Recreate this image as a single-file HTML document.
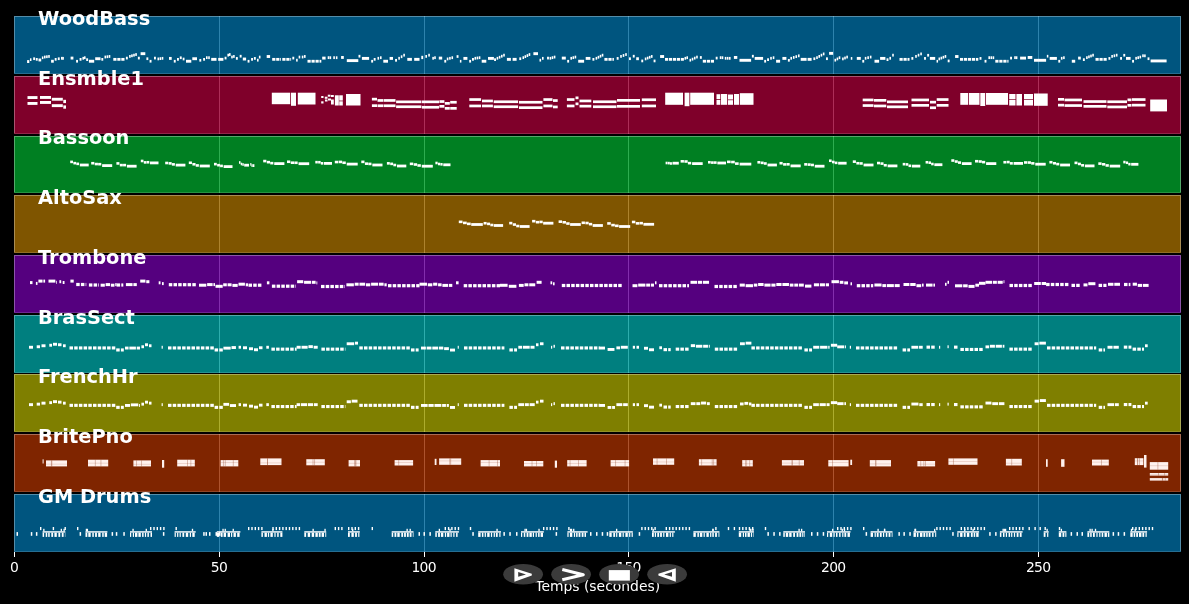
<!DOCTYPE html><html><head><meta charset="utf-8"><title>Piano roll</title><style>html,body{margin:0;padding:0;background:#000;width:1189px;height:604px;overflow:hidden}svg{display:block}text{font-family:"DejaVu Sans","Liberation Sans",sans-serif}</style></head><body>
<svg width="1189" height="604" viewBox="0 0 1189 604">
<rect width="1189" height="604" fill="#000"/>
<g>
<rect x="14" y="16" width="1167" height="58" fill="#00557f"/>
<line x1="219.5" y1="16" x2="219.5" y2="74" stroke="#2e83ad" stroke-width="1"/>
<line x1="424.5" y1="16" x2="424.5" y2="74" stroke="#2e83ad" stroke-width="1"/>
<line x1="628.5" y1="16" x2="628.5" y2="74" stroke="#2e83ad" stroke-width="1"/>
<line x1="833.5" y1="16" x2="833.5" y2="74" stroke="#2e83ad" stroke-width="1"/>
<line x1="1038.5" y1="16" x2="1038.5" y2="74" stroke="#2e83ad" stroke-width="1"/>
<rect x="27.1" y="60.11" width="2.2" height="2.9" fill="#fff"/>
<rect x="29.95" y="58.31" width="1.5" height="2.7" fill="#fff"/>
<rect x="33.2" y="57.37" width="1.9" height="2.7" fill="#fff"/>
<rect x="35.8" y="58" width="1.9" height="2.7" fill="#fff"/>
<rect x="38.5" y="58.53" width="2.7" height="2.9" fill="#fff"/>
<rect x="41.9" y="56.42" width="1.5" height="2.7" fill="#fff"/>
<rect x="44" y="55.62" width="1.6" height="2.8" fill="#fff"/>
<rect x="46.1" y="55.33" width="1.6" height="2.8" fill="#fff"/>
<rect x="48.2" y="55.04" width="1.6" height="2.8" fill="#fff"/>
<rect x="51.1" y="59.79" width="2.7" height="2.9" fill="#fff"/>
<rect x="54.7" y="58" width="1.9" height="2.7" fill="#fff"/>
<rect x="57.8" y="57.37" width="1.9" height="2.7" fill="#fff"/>
<rect x="61" y="56.88" width="1.6" height="2.8" fill="#fff"/>
<rect x="62.25" y="56.93" width="1.6" height="2.8" fill="#fff"/>
<rect x="70.6" y="56.64" width="2.8" height="2.9" fill="#fff"/>
<rect x="76.1" y="59.89" width="1.9" height="2.7" fill="#fff"/>
<rect x="79.6" y="58" width="1.9" height="2.7" fill="#fff"/>
<rect x="82.4" y="56.88" width="1.6" height="2.8" fill="#fff"/>
<rect x="84" y="56.3" width="1.6" height="2.8" fill="#fff"/>
<rect x="86.2" y="58.31" width="1.9" height="2.7" fill="#fff"/>
<rect x="88.9" y="59.79" width="5.3" height="2.9" fill="#fff"/>
<rect x="95.2" y="57.27" width="5.3" height="2.9" fill="#fff"/>
<rect x="101.35" y="58" width="1.9" height="2.7" fill="#fff"/>
<rect x="104.5" y="55.62" width="1.6" height="2.8" fill="#fff"/>
<rect x="106.6" y="55.33" width="1.6" height="2.8" fill="#fff"/>
<rect x="108.7" y="55.04" width="1.6" height="2.8" fill="#fff"/>
<rect x="113.3" y="57.95" width="3.2" height="2.8" fill="#fff"/>
<rect x="117.3" y="57.95" width="3.2" height="2.8" fill="#fff"/>
<rect x="121.3" y="57.95" width="3.2" height="2.8" fill="#fff"/>
<rect x="125.9" y="56.74" width="1.9" height="2.7" fill="#fff"/>
<rect x="129.1" y="54.99" width="1.6" height="2.8" fill="#fff"/>
<rect x="131.15" y="54.37" width="1.6" height="2.8" fill="#fff"/>
<rect x="133.2" y="53.76" width="1.6" height="2.8" fill="#fff"/>
<rect x="135.25" y="53.14" width="1.6" height="2.8" fill="#fff"/>
<rect x="137.9" y="56.74" width="1.9" height="2.7" fill="#fff"/>
<rect x="140.6" y="52.22" width="4.7" height="2.9" fill="#fff"/>
<rect x="146.4" y="57.37" width="1.9" height="2.7" fill="#fff"/>
<rect x="149.6" y="59.89" width="1.9" height="2.7" fill="#fff"/>
<rect x="154" y="56.74" width="1.9" height="2.7" fill="#fff"/>
<rect x="157.5" y="57.51" width="1.6" height="2.8" fill="#fff"/>
<rect x="159.6" y="57.22" width="1.6" height="2.8" fill="#fff"/>
<rect x="161.7" y="56.93" width="1.6" height="2.8" fill="#fff"/>
<rect x="169" y="56.95" width="2.7" height="2.9" fill="#fff"/>
<rect x="173.8" y="59.89" width="1.9" height="2.7" fill="#fff"/>
<rect x="177" y="58" width="1.9" height="2.7" fill="#fff"/>
<rect x="179.8" y="56.42" width="1.9" height="2.7" fill="#fff"/>
<rect x="182.7" y="57.68" width="1.8" height="2.7" fill="#fff"/>
<rect x="186" y="59.79" width="5.3" height="2.9" fill="#fff"/>
<rect x="192.3" y="57.27" width="4.7" height="2.9" fill="#fff"/>
<rect x="199.35" y="58.95" width="1.9" height="2.7" fill="#fff"/>
<rect x="203.15" y="58" width="1.9" height="2.7" fill="#fff"/>
<rect x="206" y="56.25" width="1.6" height="2.8" fill="#fff"/>
<rect x="208.2" y="56.3" width="1.6" height="2.8" fill="#fff"/>
<rect x="211.2" y="57.9" width="5.3" height="2.9" fill="#fff"/>
<rect x="218.2" y="57.9" width="5.2" height="2.9" fill="#fff"/>
<rect x="224.6" y="56.74" width="1.9" height="2.7" fill="#fff"/>
<rect x="227.4" y="53.73" width="1.6" height="2.8" fill="#fff"/>
<rect x="229" y="53.14" width="1.6" height="2.8" fill="#fff"/>
<rect x="231.2" y="55.62" width="1.6" height="2.8" fill="#fff"/>
<rect x="233.1" y="55.04" width="1.6" height="2.8" fill="#fff"/>
<rect x="235.9" y="57.05" width="1.9" height="2.7" fill="#fff"/>
<rect x="239.7" y="54.85" width="1.9" height="2.7" fill="#fff"/>
<rect x="242.8" y="57.58" width="3.3" height="2.9" fill="#fff"/>
<rect x="247.6" y="59.89" width="1.9" height="2.7" fill="#fff"/>
<rect x="251.1" y="58" width="1.9" height="2.7" fill="#fff"/>
<rect x="253.9" y="57.05" width="1.9" height="2.7" fill="#fff"/>
<rect x="257" y="58.77" width="1.6" height="2.8" fill="#fff"/>
<rect x="258.9" y="55.67" width="1.6" height="2.8" fill="#fff"/>
<rect x="266.7" y="55.06" width="3.4" height="2.9" fill="#fff"/>
<rect x="272.2" y="57.95" width="3.2" height="2.8" fill="#fff"/>
<rect x="276.2" y="57.95" width="3.2" height="2.8" fill="#fff"/>
<rect x="280.2" y="57.95" width="0.8" height="2.8" fill="#fff"/>
<rect x="282.3" y="57.95" width="3.2" height="2.8" fill="#fff"/>
<rect x="286.3" y="57.95" width="3.2" height="2.8" fill="#fff"/>
<rect x="290.3" y="57.95" width="0.8" height="2.8" fill="#fff"/>
<rect x="292.35" y="56.74" width="1.9" height="2.7" fill="#fff"/>
<rect x="296.1" y="58.77" width="1.6" height="2.8" fill="#fff"/>
<rect x="298.65" y="55.67" width="1.6" height="2.8" fill="#fff"/>
<rect x="301.8" y="55.62" width="1.6" height="2.8" fill="#fff"/>
<rect x="304" y="55.04" width="1.6" height="2.8" fill="#fff"/>
<rect x="307.5" y="59.84" width="3.2" height="2.8" fill="#fff"/>
<rect x="311.5" y="59.84" width="3.2" height="2.8" fill="#fff"/>
<rect x="315.5" y="59.84" width="3.2" height="2.8" fill="#fff"/>
<rect x="319.5" y="59.84" width="1.8" height="2.8" fill="#fff"/>
<rect x="322.2" y="56.64" width="3.4" height="2.9" fill="#fff"/>
<rect x="327.7" y="56.25" width="1.6" height="2.8" fill="#fff"/>
<rect x="329.55" y="56.3" width="1.6" height="2.8" fill="#fff"/>
<rect x="333.3" y="56.25" width="1.6" height="2.8" fill="#fff"/>
<rect x="335.85" y="56.3" width="1.6" height="2.8" fill="#fff"/>
<rect x="341.1" y="56.01" width="2.7" height="2.9" fill="#fff"/>
<rect x="346.8" y="59.16" width="11.5" height="2.9" fill="#fff"/>
<rect x="358.5" y="54.85" width="1.9" height="2.7" fill="#fff"/>
<rect x="361.9" y="56.95" width="7.2" height="2.9" fill="#fff"/>
<rect x="371.2" y="59.89" width="1.9" height="2.7" fill="#fff"/>
<rect x="373.7" y="58" width="1.9" height="2.7" fill="#fff"/>
<rect x="377.5" y="56.88" width="1.6" height="2.8" fill="#fff"/>
<rect x="380" y="56.3" width="1.6" height="2.8" fill="#fff"/>
<rect x="383.3" y="59.79" width="4.7" height="2.9" fill="#fff"/>
<rect x="389.6" y="56.95" width="3.4" height="2.9" fill="#fff"/>
<rect x="395.1" y="58.95" width="1.9" height="2.7" fill="#fff"/>
<rect x="398.3" y="56.88" width="1.6" height="2.8" fill="#fff"/>
<rect x="400.8" y="55.33" width="1.6" height="2.8" fill="#fff"/>
<rect x="403.3" y="53.77" width="1.6" height="2.8" fill="#fff"/>
<rect x="407.3" y="57.9" width="4.6" height="2.9" fill="#fff"/>
<rect x="414.2" y="57.9" width="5.3" height="2.9" fill="#fff"/>
<rect x="421.3" y="55.82" width="1.9" height="3.28" fill="#fff"/>
<rect x="425.4" y="54.99" width="1.6" height="2.8" fill="#fff"/>
<rect x="428.25" y="53.77" width="1.6" height="2.8" fill="#fff"/>
<rect x="432.3" y="56.88" width="1.6" height="2.8" fill="#fff"/>
<rect x="434.2" y="56.3" width="1.6" height="2.8" fill="#fff"/>
<rect x="438.8" y="56.64" width="3.4" height="2.9" fill="#fff"/>
<rect x="444.3" y="59.89" width="1.9" height="2.7" fill="#fff"/>
<rect x="446.8" y="57.51" width="1.6" height="2.8" fill="#fff"/>
<rect x="449.13" y="56.9" width="1.6" height="2.8" fill="#fff"/>
<rect x="451.47" y="56.3" width="1.6" height="2.8" fill="#fff"/>
<rect x="456.6" y="55.16" width="1.9" height="2.7" fill="#fff"/>
<rect x="459.9" y="59.89" width="1.5" height="2.7" fill="#fff"/>
<rect x="463.4" y="56.95" width="4" height="2.9" fill="#fff"/>
<rect x="469.2" y="59.89" width="1.9" height="2.7" fill="#fff"/>
<rect x="472" y="58" width="1.9" height="2.7" fill="#fff"/>
<rect x="474.5" y="56.88" width="1.6" height="2.8" fill="#fff"/>
<rect x="476.63" y="56.59" width="1.6" height="2.8" fill="#fff"/>
<rect x="478.77" y="56.3" width="1.6" height="2.8" fill="#fff"/>
<rect x="481.7" y="59.79" width="4.6" height="2.9" fill="#fff"/>
<rect x="488" y="56.95" width="5.9" height="2.9" fill="#fff"/>
<rect x="494.1" y="58.31" width="1.9" height="2.7" fill="#fff"/>
<rect x="496.6" y="56.88" width="1.6" height="2.8" fill="#fff"/>
<rect x="498.8" y="55.84" width="1.6" height="2.8" fill="#fff"/>
<rect x="501" y="54.81" width="1.6" height="2.8" fill="#fff"/>
<rect x="503.2" y="53.77" width="1.6" height="2.8" fill="#fff"/>
<rect x="506.9" y="57.9" width="4" height="2.9" fill="#fff"/>
<rect x="512.6" y="57.9" width="4" height="2.9" fill="#fff"/>
<rect x="519.3" y="57.37" width="1.9" height="2.7" fill="#fff"/>
<rect x="522.5" y="56.25" width="1.6" height="2.8" fill="#fff"/>
<rect x="524.55" y="55.21" width="1.6" height="2.8" fill="#fff"/>
<rect x="526.6" y="54.18" width="1.6" height="2.8" fill="#fff"/>
<rect x="528.65" y="53.14" width="1.6" height="2.8" fill="#fff"/>
<rect x="533.4" y="52.22" width="4.6" height="2.9" fill="#fff"/>
<rect x="539.5" y="58.77" width="1.6" height="2.8" fill="#fff"/>
<rect x="542" y="56.93" width="1.6" height="2.8" fill="#fff"/>
<rect x="547.05" y="56.74" width="1.9" height="2.7" fill="#fff"/>
<rect x="549.6" y="56.88" width="1.6" height="2.8" fill="#fff"/>
<rect x="551.7" y="56.27" width="1.6" height="2.8" fill="#fff"/>
<rect x="553.8" y="55.67" width="1.6" height="2.8" fill="#fff"/>
<rect x="561.8" y="56.64" width="4" height="2.9" fill="#fff"/>
<rect x="567.2" y="59.89" width="1.9" height="2.7" fill="#fff"/>
<rect x="570.4" y="56.88" width="1.6" height="2.8" fill="#fff"/>
<rect x="572.5" y="56.27" width="1.6" height="2.8" fill="#fff"/>
<rect x="574.6" y="55.67" width="1.6" height="2.8" fill="#fff"/>
<rect x="578.2" y="59.79" width="5.9" height="2.9" fill="#fff"/>
<rect x="585.7" y="56.95" width="4.7" height="2.9" fill="#fff"/>
<rect x="592.45" y="58" width="1.9" height="2.7" fill="#fff"/>
<rect x="595.6" y="56.88" width="1.6" height="2.8" fill="#fff"/>
<rect x="597.65" y="55.84" width="1.6" height="2.8" fill="#fff"/>
<rect x="599.7" y="54.81" width="1.6" height="2.8" fill="#fff"/>
<rect x="601.75" y="53.77" width="1.6" height="2.8" fill="#fff"/>
<rect x="604.4" y="57.95" width="3.2" height="2.8" fill="#fff"/>
<rect x="608.4" y="57.95" width="3.2" height="2.8" fill="#fff"/>
<rect x="612.4" y="57.95" width="1.5" height="2.8" fill="#fff"/>
<rect x="616.7" y="57.05" width="1.9" height="2.7" fill="#fff"/>
<rect x="620.2" y="54.99" width="1.6" height="2.8" fill="#fff"/>
<rect x="622.7" y="54.07" width="1.6" height="2.8" fill="#fff"/>
<rect x="625.2" y="53.14" width="1.6" height="2.8" fill="#fff"/>
<rect x="629" y="57.37" width="1.9" height="2.7" fill="#fff"/>
<rect x="632.8" y="54.85" width="1.9" height="2.7" fill="#fff"/>
<rect x="636.2" y="57.27" width="2.7" height="2.9" fill="#fff"/>
<rect x="641.3" y="59.58" width="1.9" height="2.7" fill="#fff"/>
<rect x="644.8" y="57.51" width="1.6" height="2.8" fill="#fff"/>
<rect x="646.85" y="56.69" width="1.6" height="2.8" fill="#fff"/>
<rect x="648.9" y="55.86" width="1.6" height="2.8" fill="#fff"/>
<rect x="650.95" y="55.04" width="1.6" height="2.8" fill="#fff"/>
<rect x="653.6" y="59.58" width="1.9" height="2.7" fill="#fff"/>
<rect x="660.1" y="55.06" width="4" height="2.9" fill="#fff"/>
<rect x="665" y="57.95" width="3.2" height="2.8" fill="#fff"/>
<rect x="669" y="57.95" width="3.2" height="2.8" fill="#fff"/>
<rect x="673" y="57.95" width="3.2" height="2.8" fill="#fff"/>
<rect x="677" y="57.95" width="3.2" height="2.8" fill="#fff"/>
<rect x="681" y="57.95" width="2.9" height="2.8" fill="#fff"/>
<rect x="684.5" y="56.88" width="1.6" height="2.8" fill="#fff"/>
<rect x="686.4" y="56.3" width="1.6" height="2.8" fill="#fff"/>
<rect x="689.5" y="58.77" width="1.6" height="2.8" fill="#fff"/>
<rect x="691.73" y="57.74" width="1.6" height="2.8" fill="#fff"/>
<rect x="693.95" y="56.7" width="1.6" height="2.8" fill="#fff"/>
<rect x="696.17" y="55.67" width="1.6" height="2.8" fill="#fff"/>
<rect x="699.9" y="56.11" width="1.9" height="2.7" fill="#fff"/>
<rect x="702.8" y="59.84" width="3.2" height="2.8" fill="#fff"/>
<rect x="706.8" y="59.84" width="3.2" height="2.8" fill="#fff"/>
<rect x="710.8" y="59.84" width="3.2" height="2.8" fill="#fff"/>
<rect x="715.7" y="56.74" width="1.9" height="2.7" fill="#fff"/>
<rect x="719.8" y="56.25" width="1.6" height="2.8" fill="#fff"/>
<rect x="721.7" y="56.3" width="1.6" height="2.8" fill="#fff"/>
<rect x="724.8" y="56.88" width="1.6" height="2.8" fill="#fff"/>
<rect x="726.9" y="56.9" width="1.6" height="2.8" fill="#fff"/>
<rect x="729" y="56.93" width="1.6" height="2.8" fill="#fff"/>
<rect x="733.9" y="56.01" width="3.4" height="2.9" fill="#fff"/>
<rect x="739.5" y="58.85" width="11.6" height="2.9" fill="#fff"/>
<rect x="751.9" y="54.85" width="1.9" height="2.7" fill="#fff"/>
<rect x="754.7" y="56.95" width="8.4" height="2.9" fill="#fff"/>
<rect x="764.2" y="59.89" width="1.9" height="2.7" fill="#fff"/>
<rect x="767.1" y="58.31" width="1.9" height="2.7" fill="#fff"/>
<rect x="770.2" y="56.88" width="1.6" height="2.8" fill="#fff"/>
<rect x="772.75" y="56.3" width="1.6" height="2.8" fill="#fff"/>
<rect x="776.1" y="59.79" width="4" height="2.9" fill="#fff"/>
<rect x="782.4" y="56.95" width="4" height="2.9" fill="#fff"/>
<rect x="787.9" y="58.95" width="1.9" height="2.7" fill="#fff"/>
<rect x="790.4" y="56.88" width="1.6" height="2.8" fill="#fff"/>
<rect x="792.92" y="56.05" width="1.6" height="2.8" fill="#fff"/>
<rect x="795.45" y="55.23" width="1.6" height="2.8" fill="#fff"/>
<rect x="797.98" y="54.41" width="1.6" height="2.8" fill="#fff"/>
<rect x="800.7" y="57.9" width="5.9" height="2.9" fill="#fff"/>
<rect x="807.6" y="57.9" width="4" height="2.9" fill="#fff"/>
<rect x="813.4" y="57.37" width="1.9" height="2.7" fill="#fff"/>
<rect x="816.2" y="56.25" width="1.6" height="2.8" fill="#fff"/>
<rect x="818.43" y="55" width="1.6" height="2.8" fill="#fff"/>
<rect x="820.65" y="53.76" width="1.6" height="2.8" fill="#fff"/>
<rect x="822.88" y="52.51" width="1.6" height="2.8" fill="#fff"/>
<rect x="826" y="57.37" width="1.9" height="2.7" fill="#fff"/>
<rect x="829.1" y="51.91" width="4" height="2.9" fill="#fff"/>
<rect x="834.5" y="58.77" width="1.6" height="2.8" fill="#fff"/>
<rect x="836.6" y="57.53" width="1.6" height="2.8" fill="#fff"/>
<rect x="838.7" y="56.3" width="1.6" height="2.8" fill="#fff"/>
<rect x="842.1" y="57.51" width="1.6" height="2.8" fill="#fff"/>
<rect x="844.2" y="56.59" width="1.6" height="2.8" fill="#fff"/>
<rect x="846.3" y="55.67" width="1.6" height="2.8" fill="#fff"/>
<rect x="850.8" y="57.05" width="1.5" height="2.7" fill="#fff"/>
<rect x="856.8" y="56.95" width="4" height="2.9" fill="#fff"/>
<rect x="862.3" y="59.89" width="1.9" height="2.7" fill="#fff"/>
<rect x="864.8" y="56.88" width="1.6" height="2.8" fill="#fff"/>
<rect x="867.33" y="56.27" width="1.6" height="2.8" fill="#fff"/>
<rect x="869.87" y="55.67" width="1.6" height="2.8" fill="#fff"/>
<rect x="874.5" y="59.79" width="4.6" height="2.9" fill="#fff"/>
<rect x="880.1" y="56.95" width="5.3" height="2.9" fill="#fff"/>
<rect x="886.55" y="58.31" width="1.9" height="2.7" fill="#fff"/>
<rect x="889.4" y="56.88" width="1.6" height="2.8" fill="#fff"/>
<rect x="892.2" y="53.77" width="1.6" height="2.8" fill="#fff"/>
<rect x="899.5" y="57.95" width="3.2" height="2.8" fill="#fff"/>
<rect x="903.5" y="57.95" width="3.2" height="2.8" fill="#fff"/>
<rect x="907.5" y="57.95" width="2" height="2.8" fill="#fff"/>
<rect x="911.4" y="57.05" width="1.9" height="2.7" fill="#fff"/>
<rect x="915.2" y="54.99" width="1.6" height="2.8" fill="#fff"/>
<rect x="917.73" y="53.75" width="1.6" height="2.8" fill="#fff"/>
<rect x="920.27" y="52.51" width="1.6" height="2.8" fill="#fff"/>
<rect x="924.05" y="57.05" width="1.9" height="2.7" fill="#fff"/>
<rect x="927.2" y="53.9" width="1.9" height="2.7" fill="#fff"/>
<rect x="929.9" y="56.95" width="5.3" height="2.9" fill="#fff"/>
<rect x="936.55" y="59.89" width="1.5" height="2.7" fill="#fff"/>
<rect x="938.5" y="57.51" width="1.6" height="2.8" fill="#fff"/>
<rect x="940.55" y="56.69" width="1.6" height="2.8" fill="#fff"/>
<rect x="942.6" y="55.86" width="1.6" height="2.8" fill="#fff"/>
<rect x="944.65" y="55.04" width="1.6" height="2.8" fill="#fff"/>
<rect x="947.7" y="59.58" width="1.9" height="2.7" fill="#fff"/>
<rect x="955.1" y="55.06" width="3.4" height="2.9" fill="#fff"/>
<rect x="960" y="57.95" width="3.2" height="2.8" fill="#fff"/>
<rect x="964" y="57.95" width="3.2" height="2.8" fill="#fff"/>
<rect x="968" y="57.95" width="3.2" height="2.8" fill="#fff"/>
<rect x="972" y="57.95" width="3.2" height="2.8" fill="#fff"/>
<rect x="976" y="57.95" width="2.3" height="2.8" fill="#fff"/>
<rect x="979.55" y="57.05" width="1.9" height="2.7" fill="#fff"/>
<rect x="984.55" y="59.89" width="1.9" height="2.7" fill="#fff"/>
<rect x="988.4" y="56.25" width="1.6" height="2.8" fill="#fff"/>
<rect x="990.5" y="56.27" width="1.6" height="2.8" fill="#fff"/>
<rect x="992.6" y="56.3" width="1.6" height="2.8" fill="#fff"/>
<rect x="995.3" y="59.84" width="3.2" height="2.8" fill="#fff"/>
<rect x="999.3" y="59.84" width="3.2" height="2.8" fill="#fff"/>
<rect x="1003.3" y="59.84" width="3.2" height="2.8" fill="#fff"/>
<rect x="1007.3" y="59.84" width="1.2" height="2.8" fill="#fff"/>
<rect x="1010.1" y="56.74" width="1.9" height="2.7" fill="#fff"/>
<rect x="1014.2" y="56.25" width="1.6" height="2.8" fill="#fff"/>
<rect x="1015.8" y="56.3" width="1.6" height="2.8" fill="#fff"/>
<rect x="1020.1" y="56.64" width="5.9" height="2.9" fill="#fff"/>
<rect x="1027.7" y="56.01" width="4.6" height="2.9" fill="#fff"/>
<rect x="1034" y="58.85" width="12.1" height="2.9" fill="#fff"/>
<rect x="1046.85" y="54.85" width="1.5" height="2.7" fill="#fff"/>
<rect x="1049.7" y="56.95" width="7.2" height="2.9" fill="#fff"/>
<rect x="1058.3" y="59.89" width="1.9" height="2.7" fill="#fff"/>
<rect x="1060.9" y="56.88" width="1.6" height="2.8" fill="#fff"/>
<rect x="1063.1" y="56.3" width="1.6" height="2.8" fill="#fff"/>
<rect x="1071.8" y="59.79" width="3.4" height="2.9" fill="#fff"/>
<rect x="1078.1" y="56.64" width="2.7" height="2.9" fill="#fff"/>
<rect x="1082.9" y="58.31" width="1.9" height="2.7" fill="#fff"/>
<rect x="1086.1" y="56.25" width="1.6" height="2.8" fill="#fff"/>
<rect x="1088.15" y="55.42" width="1.6" height="2.8" fill="#fff"/>
<rect x="1090.2" y="54.6" width="1.6" height="2.8" fill="#fff"/>
<rect x="1092.25" y="53.77" width="1.6" height="2.8" fill="#fff"/>
<rect x="1095.5" y="57.95" width="3.2" height="2.8" fill="#fff"/>
<rect x="1099.5" y="57.95" width="3.2" height="2.8" fill="#fff"/>
<rect x="1103.5" y="57.95" width="3.2" height="2.8" fill="#fff"/>
<rect x="1108.45" y="57.05" width="1.9" height="2.7" fill="#fff"/>
<rect x="1111.3" y="54.99" width="1.6" height="2.8" fill="#fff"/>
<rect x="1113.6" y="54.38" width="1.6" height="2.8" fill="#fff"/>
<rect x="1115.9" y="53.77" width="1.6" height="2.8" fill="#fff"/>
<rect x="1120.1" y="57.05" width="1.9" height="2.7" fill="#fff"/>
<rect x="1123.3" y="53.9" width="1.9" height="2.7" fill="#fff"/>
<rect x="1126" y="56.95" width="4.6" height="2.9" fill="#fff"/>
<rect x="1132.1" y="59.89" width="1.9" height="2.7" fill="#fff"/>
<rect x="1135.3" y="56.88" width="1.6" height="2.8" fill="#fff"/>
<rect x="1137.4" y="56.27" width="1.6" height="2.8" fill="#fff"/>
<rect x="1139.5" y="55.67" width="1.6" height="2.8" fill="#fff"/>
<rect x="1142.2" y="54.36" width="1.6" height="2.8" fill="#fff"/>
<rect x="1144.1" y="54.41" width="1.6" height="2.8" fill="#fff"/>
<rect x="1147.55" y="57.37" width="1.9" height="2.7" fill="#fff"/>
<rect x="1150.6" y="59.48" width="16" height="2.9" fill="#fff"/>
<path d="M14 16.5H1181M14.5 17V73M1180.5 17V73" stroke="#fff" stroke-opacity="0.33" stroke-width="1" fill="none"/>
<path d="M14 73.5H1181" stroke="#fff" stroke-opacity="0.15" stroke-width="1" fill="none"/>
<text x="38" y="25" fill="#fff" font-weight="bold" font-size="19.4">WoodBass</text>
</g>
<g>
<rect x="14" y="76" width="1167" height="58" fill="#7f002a"/>
<line x1="219.5" y1="76" x2="219.5" y2="134" stroke="#ad2e58" stroke-width="1"/>
<line x1="424.5" y1="76" x2="424.5" y2="134" stroke="#ad2e58" stroke-width="1"/>
<line x1="628.5" y1="76" x2="628.5" y2="134" stroke="#ad2e58" stroke-width="1"/>
<line x1="833.5" y1="76" x2="833.5" y2="134" stroke="#ad2e58" stroke-width="1"/>
<line x1="1038.5" y1="76" x2="1038.5" y2="134" stroke="#ad2e58" stroke-width="1"/>
<rect x="27.5" y="96.1" width="10" height="2.9" fill="#fff"/>
<rect x="27.5" y="102" width="10" height="2.9" fill="#fff"/>
<rect x="40" y="96" width="11" height="2.9" fill="#fff"/>
<rect x="40" y="101" width="11" height="2.9" fill="#fff"/>
<rect x="51.8" y="97.8" width="11" height="2.9" fill="#fff"/>
<rect x="51.8" y="104.2" width="11" height="2.9" fill="#fff"/>
<rect x="63.3" y="99.8" width="2.7" height="3.3" fill="#fff"/>
<rect x="63.3" y="105.4" width="2.7" height="3.3" fill="#fff"/>
<rect x="271.8" y="92.7" width="18.4" height="11.5" fill="#fff"/>
<rect x="291" y="92.7" width="5" height="13.1" fill="#fff"/>
<rect x="297.8" y="92.7" width="17.7" height="11.8" fill="#fff"/>
<rect x="321.2" y="96" width="2.3" height="2" fill="#fff"/>
<rect x="321.2" y="101.3" width="2.3" height="2.2" fill="#fff"/>
<rect x="324.8" y="96.7" width="2.7" height="2.1" fill="#fff"/>
<rect x="325" y="99.5" width="2.5" height="2" fill="#fff"/>
<rect x="327.8" y="94.7" width="2.7" height="2" fill="#fff"/>
<rect x="328" y="98.5" width="3" height="2" fill="#fff"/>
<rect x="331" y="95" width="2.8" height="2" fill="#fff"/>
<rect x="331" y="99.5" width="2.8" height="5" fill="#fff"/>
<rect x="334.9" y="95.3" width="3.9" height="10.2" fill="#fff"/>
<rect x="339.2" y="95.3" width="3.6" height="5.3" fill="#fff"/>
<rect x="339.2" y="101.3" width="3.6" height="4.2" fill="#fff"/>
<rect x="346" y="94" width="14.5" height="11.5" fill="#fff"/>
<rect x="371.9" y="97.8" width="5.1" height="2.7" fill="#fff"/>
<rect x="371.9" y="104.3" width="5.1" height="2.7" fill="#fff"/>
<rect x="377.5" y="99.1" width="5.7" height="2.7" fill="#fff"/>
<rect x="377.5" y="104.4" width="5.7" height="2.7" fill="#fff"/>
<rect x="383.6" y="99.1" width="11.9" height="2.7" fill="#fff"/>
<rect x="383.6" y="104.4" width="11.9" height="2.7" fill="#fff"/>
<rect x="396.1" y="100.5" width="25.3" height="2.7" fill="#fff"/>
<rect x="396.1" y="105.4" width="25.3" height="2.7" fill="#fff"/>
<rect x="421.9" y="100.5" width="17.1" height="2.7" fill="#fff"/>
<rect x="421.9" y="105.9" width="17.1" height="2.7" fill="#fff"/>
<rect x="439.4" y="100.2" width="5" height="2.7" fill="#fff"/>
<rect x="439.4" y="105" width="5" height="2.7" fill="#fff"/>
<rect x="444.8" y="102" width="5" height="2.7" fill="#fff"/>
<rect x="444.8" y="107" width="5" height="2.7" fill="#fff"/>
<rect x="450.2" y="100.9" width="6.5" height="2.7" fill="#fff"/>
<rect x="450.2" y="107" width="6.5" height="2.7" fill="#fff"/>
<rect x="469.3" y="98.2" width="11.8" height="2.7" fill="#fff"/>
<rect x="469.3" y="104.6" width="11.8" height="2.7" fill="#fff"/>
<rect x="482" y="99.6" width="10.9" height="2.7" fill="#fff"/>
<rect x="482" y="104.6" width="10.9" height="2.7" fill="#fff"/>
<rect x="493.7" y="100.4" width="24.4" height="2.7" fill="#fff"/>
<rect x="493.7" y="105.4" width="24.4" height="2.7" fill="#fff"/>
<rect x="519" y="100.9" width="23.5" height="2.7" fill="#fff"/>
<rect x="519" y="106.3" width="23.5" height="2.7" fill="#fff"/>
<rect x="543.4" y="98.2" width="9.1" height="2.7" fill="#fff"/>
<rect x="543.4" y="104.6" width="9.1" height="2.7" fill="#fff"/>
<rect x="553" y="99.2" width="4.7" height="2.7" fill="#fff"/>
<rect x="553" y="105.6" width="4.7" height="2.7" fill="#fff"/>
<rect x="566.9" y="98.2" width="7.6" height="2.7" fill="#fff"/>
<rect x="566.9" y="104.6" width="7.6" height="2.7" fill="#fff"/>
<rect x="575.5" y="96.5" width="3" height="2.7" fill="#fff"/>
<rect x="575.5" y="102.5" width="3" height="2.7" fill="#fff"/>
<rect x="579.5" y="99.6" width="11.8" height="2.7" fill="#fff"/>
<rect x="579.5" y="104.8" width="11.8" height="2.7" fill="#fff"/>
<rect x="593" y="100.4" width="23.5" height="2.7" fill="#fff"/>
<rect x="593" y="105.4" width="23.5" height="2.7" fill="#fff"/>
<rect x="617" y="99" width="23" height="2.7" fill="#fff"/>
<rect x="617" y="105" width="23" height="2.7" fill="#fff"/>
<rect x="641.8" y="98.4" width="14.2" height="2.7" fill="#fff"/>
<rect x="641.8" y="104.6" width="14.2" height="2.7" fill="#fff"/>
<rect x="665.2" y="92.7" width="17.8" height="12.1" fill="#fff"/>
<rect x="684.6" y="92.7" width="4.8" height="13.5" fill="#fff"/>
<rect x="690.2" y="92.7" width="23.8" height="12.1" fill="#fff"/>
<rect x="716.5" y="94.2" width="3.8" height="5" fill="#fff"/>
<rect x="716.5" y="100" width="3.8" height="4.8" fill="#fff"/>
<rect x="721" y="94" width="6.2" height="10.8" fill="#fff"/>
<rect x="728" y="94.5" width="5" height="5" fill="#fff"/>
<rect x="728" y="100.2" width="5" height="4.6" fill="#fff"/>
<rect x="734" y="94" width="5" height="10.8" fill="#fff"/>
<rect x="739.8" y="93.2" width="13.7" height="11.6" fill="#fff"/>
<rect x="862.7" y="98.6" width="10.8" height="2.7" fill="#fff"/>
<rect x="862.7" y="104.2" width="10.8" height="2.7" fill="#fff"/>
<rect x="874" y="99" width="12.3" height="2.7" fill="#fff"/>
<rect x="874" y="104.6" width="12.3" height="2.7" fill="#fff"/>
<rect x="887" y="100.5" width="21" height="2.7" fill="#fff"/>
<rect x="887" y="105.5" width="21" height="2.7" fill="#fff"/>
<rect x="911.5" y="98.6" width="17.5" height="2.7" fill="#fff"/>
<rect x="911.5" y="104" width="17.5" height="2.7" fill="#fff"/>
<rect x="930" y="100.8" width="6" height="2.7" fill="#fff"/>
<rect x="930" y="106.4" width="6" height="2.7" fill="#fff"/>
<rect x="936.7" y="98.2" width="11.8" height="2.7" fill="#fff"/>
<rect x="936.7" y="104" width="11.8" height="2.7" fill="#fff"/>
<rect x="960.3" y="93" width="7.7" height="11.8" fill="#fff"/>
<rect x="968.8" y="93" width="10.7" height="11.8" fill="#fff"/>
<rect x="980.3" y="93" width="4.9" height="13" fill="#fff"/>
<rect x="986" y="93" width="22" height="11.8" fill="#fff"/>
<rect x="1009.2" y="94" width="6.3" height="5.3" fill="#fff"/>
<rect x="1009.2" y="100" width="6.3" height="5.5" fill="#fff"/>
<rect x="1016.4" y="94" width="5.6" height="11.5" fill="#fff"/>
<rect x="1024" y="94" width="9" height="5.3" fill="#fff"/>
<rect x="1024" y="100" width="9" height="5.5" fill="#fff"/>
<rect x="1034" y="93.5" width="13.7" height="12.3" fill="#fff"/>
<rect x="1058" y="98" width="6" height="2.7" fill="#fff"/>
<rect x="1058" y="103.8" width="6" height="2.7" fill="#fff"/>
<rect x="1064.5" y="98.6" width="17.5" height="2.7" fill="#fff"/>
<rect x="1064.5" y="104.2" width="17.5" height="2.7" fill="#fff"/>
<rect x="1083.5" y="100.2" width="23" height="2.7" fill="#fff"/>
<rect x="1083.5" y="105" width="23" height="2.7" fill="#fff"/>
<rect x="1107.3" y="100.4" width="19.7" height="2.7" fill="#fff"/>
<rect x="1107.3" y="105.6" width="19.7" height="2.7" fill="#fff"/>
<rect x="1127.5" y="98.5" width="4" height="2.7" fill="#fff"/>
<rect x="1127.5" y="104" width="4" height="2.7" fill="#fff"/>
<rect x="1132" y="98.2" width="13.5" height="2.7" fill="#fff"/>
<rect x="1132" y="103.8" width="13.5" height="2.7" fill="#fff"/>
<rect x="1150.2" y="99.5" width="16.8" height="11.9" fill="#fff"/>
<path d="M14 76.5H1181M14.5 77V133M1180.5 77V133" stroke="#fff" stroke-opacity="0.33" stroke-width="1" fill="none"/>
<path d="M14 133.5H1181" stroke="#fff" stroke-opacity="0.15" stroke-width="1" fill="none"/>
<text x="38" y="85" fill="#fff" font-weight="bold" font-size="19.4">Ensmble1</text>
</g>
<g>
<rect x="14" y="136" width="1167" height="57" fill="#007f22"/>
<line x1="219.5" y1="136" x2="219.5" y2="193" stroke="#2ead50" stroke-width="1"/>
<line x1="424.5" y1="136" x2="424.5" y2="193" stroke="#2ead50" stroke-width="1"/>
<line x1="628.5" y1="136" x2="628.5" y2="193" stroke="#2ead50" stroke-width="1"/>
<line x1="833.5" y1="136" x2="833.5" y2="193" stroke="#2ead50" stroke-width="1"/>
<line x1="1038.5" y1="136" x2="1038.5" y2="193" stroke="#2ead50" stroke-width="1"/>
<rect x="70.2" y="160.59" width="2.78" height="2.6" fill="#fff"/>
<rect x="73.34" y="161.85" width="2.78" height="2.6" fill="#fff"/>
<rect x="76.31" y="162.54" width="2.78" height="2.6" fill="#fff"/>
<rect x="79.82" y="163.6" width="8.88" height="2.8" fill="#fff"/>
<rect x="91.2" y="161.92" width="3.15" height="2.6" fill="#fff"/>
<rect x="94.77" y="162.75" width="3.15" height="2.6" fill="#fff"/>
<rect x="98.13" y="162.88" width="3.15" height="2.6" fill="#fff"/>
<rect x="102.12" y="164.2" width="10.08" height="2.8" fill="#fff"/>
<rect x="116.4" y="162.12" width="3.03" height="2.6" fill="#fff"/>
<rect x="119.83" y="163.8" width="3.03" height="2.6" fill="#fff"/>
<rect x="123.07" y="163.81" width="3.03" height="2.6" fill="#fff"/>
<rect x="126.9" y="164.8" width="9.7" height="2.8" fill="#fff"/>
<rect x="140.8" y="159.68" width="2.66" height="2.6" fill="#fff"/>
<rect x="143.81" y="161.09" width="2.66" height="2.6" fill="#fff"/>
<rect x="146.64" y="160.96" width="2.66" height="2.6" fill="#fff"/>
<rect x="150" y="161.5" width="8.5" height="2.8" fill="#fff"/>
<rect x="165.2" y="161.7" width="3.03" height="2.6" fill="#fff"/>
<rect x="168.63" y="162.07" width="3.03" height="2.6" fill="#fff"/>
<rect x="171.87" y="163.07" width="3.03" height="2.6" fill="#fff"/>
<rect x="175.7" y="163.7" width="9.7" height="2.8" fill="#fff"/>
<rect x="188.8" y="161.48" width="3.15" height="2.6" fill="#fff"/>
<rect x="192.37" y="162.96" width="3.15" height="2.6" fill="#fff"/>
<rect x="195.73" y="164.14" width="3.15" height="2.6" fill="#fff"/>
<rect x="199.72" y="164.6" width="10.08" height="2.8" fill="#fff"/>
<rect x="214" y="162.83" width="2.78" height="2.6" fill="#fff"/>
<rect x="217.15" y="163.89" width="2.78" height="2.6" fill="#fff"/>
<rect x="220.1" y="164.61" width="2.78" height="2.6" fill="#fff"/>
<rect x="223.62" y="165.2" width="8.88" height="2.8" fill="#fff"/>
<rect x="239" y="161.18" width="1.5" height="2.6" fill="#fff"/>
<rect x="240.7" y="162.71" width="1.5" height="2.6" fill="#fff"/>
<rect x="242.3" y="163.21" width="1.5" height="2.6" fill="#fff"/>
<rect x="244.2" y="163.8" width="4.8" height="2.8" fill="#fff"/>
<rect x="250" y="163.06" width="0.66" height="2.6" fill="#fff"/>
<rect x="250.75" y="163.04" width="0.66" height="2.6" fill="#fff"/>
<rect x="251.45" y="164.34" width="0.66" height="2.6" fill="#fff"/>
<rect x="252.29" y="164.2" width="2.11" height="2.8" fill="#fff"/>
<rect x="263.2" y="159.77" width="3.18" height="2.6" fill="#fff"/>
<rect x="266.8" y="160.86" width="3.18" height="2.6" fill="#fff"/>
<rect x="270.2" y="161.85" width="3.18" height="2.6" fill="#fff"/>
<rect x="274.22" y="162.2" width="10.18" height="2.8" fill="#fff"/>
<rect x="287" y="160.46" width="3.33" height="2.6" fill="#fff"/>
<rect x="290.77" y="161.41" width="3.33" height="2.6" fill="#fff"/>
<rect x="294.33" y="161.47" width="3.33" height="2.6" fill="#fff"/>
<rect x="298.54" y="162.3" width="10.66" height="2.8" fill="#fff"/>
<rect x="315.3" y="160.86" width="2.5" height="2.6" fill="#fff"/>
<rect x="318.14" y="160.93" width="2.5" height="2.6" fill="#fff"/>
<rect x="320.81" y="162.02" width="2.5" height="2.6" fill="#fff"/>
<rect x="323.98" y="162" width="8.02" height="2.8" fill="#fff"/>
<rect x="334.8" y="160.75" width="3.44" height="2.6" fill="#fff"/>
<rect x="338.69" y="160.62" width="3.44" height="2.6" fill="#fff"/>
<rect x="342.36" y="161.46" width="3.44" height="2.6" fill="#fff"/>
<rect x="346.71" y="162.7" width="10.99" height="2.8" fill="#fff"/>
<rect x="361.3" y="160.56" width="3.18" height="2.6" fill="#fff"/>
<rect x="364.9" y="162.36" width="3.18" height="2.6" fill="#fff"/>
<rect x="368.3" y="162.62" width="3.18" height="2.6" fill="#fff"/>
<rect x="372.32" y="163.6" width="10.18" height="2.8" fill="#fff"/>
<rect x="386.9" y="162.05" width="2.91" height="2.6" fill="#fff"/>
<rect x="390.2" y="162.56" width="2.91" height="2.6" fill="#fff"/>
<rect x="393.3" y="163.71" width="2.91" height="2.6" fill="#fff"/>
<rect x="396.99" y="164.6" width="9.31" height="2.8" fill="#fff"/>
<rect x="409.8" y="162.56" width="3.45" height="2.6" fill="#fff"/>
<rect x="413.71" y="163.22" width="3.45" height="2.6" fill="#fff"/>
<rect x="417.39" y="164.2" width="3.45" height="2.6" fill="#fff"/>
<rect x="421.76" y="164.8" width="11.04" height="2.8" fill="#fff"/>
<rect x="435.4" y="161.7" width="2.26" height="2.6" fill="#fff"/>
<rect x="437.97" y="162.69" width="2.26" height="2.6" fill="#fff"/>
<rect x="440.38" y="163.02" width="2.26" height="2.6" fill="#fff"/>
<rect x="443.25" y="163.4" width="7.25" height="2.8" fill="#fff"/>
<rect x="665.6" y="161.71" width="1.98" height="2.6" fill="#fff"/>
<rect x="667.84" y="161.83" width="1.98" height="2.6" fill="#fff"/>
<rect x="669.96" y="162.19" width="1.98" height="2.6" fill="#fff"/>
<rect x="672.46" y="161.8" width="6.34" height="2.8" fill="#fff"/>
<rect x="680.6" y="160.01" width="3.32" height="2.6" fill="#fff"/>
<rect x="684.36" y="160.2" width="3.32" height="2.6" fill="#fff"/>
<rect x="687.89" y="161.83" width="3.32" height="2.6" fill="#fff"/>
<rect x="692.09" y="162.2" width="10.61" height="2.8" fill="#fff"/>
<rect x="708" y="160.96" width="2.7" height="2.6" fill="#fff"/>
<rect x="711.06" y="161.29" width="2.7" height="2.6" fill="#fff"/>
<rect x="713.94" y="161.28" width="2.7" height="2.6" fill="#fff"/>
<rect x="717.36" y="161.6" width="8.64" height="2.8" fill="#fff"/>
<rect x="727" y="160.56" width="3.64" height="2.6" fill="#fff"/>
<rect x="731.13" y="160.75" width="3.64" height="2.6" fill="#fff"/>
<rect x="735.02" y="162.3" width="3.64" height="2.6" fill="#fff"/>
<rect x="739.64" y="162.7" width="11.66" height="2.8" fill="#fff"/>
<rect x="757.4" y="160.99" width="2.92" height="2.6" fill="#fff"/>
<rect x="760.72" y="161.54" width="2.92" height="2.6" fill="#fff"/>
<rect x="763.83" y="162.18" width="2.92" height="2.6" fill="#fff"/>
<rect x="767.54" y="163.6" width="9.36" height="2.8" fill="#fff"/>
<rect x="779.5" y="161.92" width="3.18" height="2.6" fill="#fff"/>
<rect x="783.1" y="163.09" width="3.18" height="2.6" fill="#fff"/>
<rect x="786.5" y="163.01" width="3.18" height="2.6" fill="#fff"/>
<rect x="790.52" y="164.5" width="10.18" height="2.8" fill="#fff"/>
<rect x="804.2" y="163.06" width="3.04" height="2.6" fill="#fff"/>
<rect x="807.65" y="163.29" width="3.04" height="2.6" fill="#fff"/>
<rect x="810.9" y="163.68" width="3.04" height="2.6" fill="#fff"/>
<rect x="814.76" y="164.8" width="9.74" height="2.8" fill="#fff"/>
<rect x="829" y="159.45" width="2.64" height="2.6" fill="#fff"/>
<rect x="831.99" y="160.72" width="2.64" height="2.6" fill="#fff"/>
<rect x="834.81" y="161.55" width="2.64" height="2.6" fill="#fff"/>
<rect x="838.15" y="161.8" width="8.45" height="2.8" fill="#fff"/>
<rect x="852.8" y="160.35" width="3.11" height="2.6" fill="#fff"/>
<rect x="856.32" y="161.94" width="3.11" height="2.6" fill="#fff"/>
<rect x="859.63" y="162.15" width="3.11" height="2.6" fill="#fff"/>
<rect x="863.56" y="163.6" width="9.94" height="2.8" fill="#fff"/>
<rect x="877" y="161.76" width="3.06" height="2.6" fill="#fff"/>
<rect x="880.47" y="162.3" width="3.06" height="2.6" fill="#fff"/>
<rect x="883.73" y="163.96" width="3.06" height="2.6" fill="#fff"/>
<rect x="887.61" y="164.5" width="9.79" height="2.8" fill="#fff"/>
<rect x="902.7" y="162.88" width="2.64" height="2.6" fill="#fff"/>
<rect x="905.69" y="163.11" width="2.64" height="2.6" fill="#fff"/>
<rect x="908.51" y="164.5" width="2.64" height="2.6" fill="#fff"/>
<rect x="911.85" y="164.7" width="8.45" height="2.8" fill="#fff"/>
<rect x="925.6" y="160.97" width="2.52" height="2.6" fill="#fff"/>
<rect x="928.46" y="161.39" width="2.52" height="2.6" fill="#fff"/>
<rect x="931.14" y="162.72" width="2.52" height="2.6" fill="#fff"/>
<rect x="934.34" y="163.3" width="8.06" height="2.8" fill="#fff"/>
<rect x="951.3" y="159.24" width="3.04" height="2.6" fill="#fff"/>
<rect x="954.75" y="160.24" width="3.04" height="2.6" fill="#fff"/>
<rect x="958" y="161.29" width="3.04" height="2.6" fill="#fff"/>
<rect x="961.86" y="162.2" width="9.74" height="2.8" fill="#fff"/>
<rect x="975" y="159.93" width="3.19" height="2.6" fill="#fff"/>
<rect x="978.62" y="160.19" width="3.2" height="2.6" fill="#fff"/>
<rect x="982.03" y="160.85" width="3.19" height="2.6" fill="#fff"/>
<rect x="986.08" y="162.2" width="10.22" height="2.8" fill="#fff"/>
<rect x="1003.4" y="160.94" width="2.94" height="2.6" fill="#fff"/>
<rect x="1006.73" y="160.78" width="2.94" height="2.6" fill="#fff"/>
<rect x="1009.87" y="162.05" width="2.94" height="2.6" fill="#fff"/>
<rect x="1013.59" y="162" width="9.41" height="2.8" fill="#fff"/>
<rect x="1024" y="161.18" width="3.26" height="2.6" fill="#fff"/>
<rect x="1027.69" y="161.25" width="3.26" height="2.6" fill="#fff"/>
<rect x="1031.16" y="162.05" width="3.26" height="2.6" fill="#fff"/>
<rect x="1035.28" y="162.8" width="10.42" height="2.8" fill="#fff"/>
<rect x="1049.4" y="160.92" width="3.09" height="2.6" fill="#fff"/>
<rect x="1052.9" y="161.97" width="3.09" height="2.6" fill="#fff"/>
<rect x="1056.2" y="162.81" width="3.09" height="2.6" fill="#fff"/>
<rect x="1060.11" y="163.6" width="9.89" height="2.8" fill="#fff"/>
<rect x="1074.5" y="161.57" width="3" height="2.6" fill="#fff"/>
<rect x="1077.9" y="162.64" width="3" height="2.6" fill="#fff"/>
<rect x="1081.1" y="164.03" width="3" height="2.6" fill="#fff"/>
<rect x="1084.9" y="164.5" width="9.6" height="2.8" fill="#fff"/>
<rect x="1098.3" y="162.31" width="3.29" height="2.6" fill="#fff"/>
<rect x="1102.02" y="163.02" width="3.29" height="2.6" fill="#fff"/>
<rect x="1105.53" y="164.16" width="3.29" height="2.6" fill="#fff"/>
<rect x="1109.69" y="164.7" width="10.51" height="2.8" fill="#fff"/>
<rect x="1123.3" y="160.79" width="2.27" height="2.6" fill="#fff"/>
<rect x="1125.87" y="161.46" width="2.27" height="2.6" fill="#fff"/>
<rect x="1128.28" y="162.87" width="2.27" height="2.6" fill="#fff"/>
<rect x="1131.15" y="162.9" width="7.25" height="2.8" fill="#fff"/>
<path d="M14 136.5H1181M14.5 137V192M1180.5 137V192" stroke="#fff" stroke-opacity="0.33" stroke-width="1" fill="none"/>
<path d="M14 192.5H1181" stroke="#fff" stroke-opacity="0.15" stroke-width="1" fill="none"/>
<text x="38" y="144" fill="#fff" font-weight="bold" font-size="19.4">Bassoon</text>
</g>
<g>
<rect x="14" y="195" width="1167" height="58" fill="#7f5500"/>
<line x1="219.5" y1="195" x2="219.5" y2="253" stroke="#ad832e" stroke-width="1"/>
<line x1="424.5" y1="195" x2="424.5" y2="253" stroke="#ad832e" stroke-width="1"/>
<line x1="628.5" y1="195" x2="628.5" y2="253" stroke="#ad832e" stroke-width="1"/>
<line x1="833.5" y1="195" x2="833.5" y2="253" stroke="#ad832e" stroke-width="1"/>
<line x1="1038.5" y1="195" x2="1038.5" y2="253" stroke="#ad832e" stroke-width="1"/>
<rect x="458.8" y="220.55" width="3.72" height="2.6" fill="#fff"/>
<rect x="463.02" y="221.59" width="3.72" height="2.6" fill="#fff"/>
<rect x="466.98" y="222.55" width="3.72" height="2.6" fill="#fff"/>
<rect x="471.2" y="223.1" width="11.6" height="2.8" fill="#fff"/>
<rect x="483.6" y="221.93" width="3.05" height="2.6" fill="#fff"/>
<rect x="487.05" y="222.59" width="3.05" height="2.6" fill="#fff"/>
<rect x="490.3" y="223.71" width="3.05" height="2.6" fill="#fff"/>
<rect x="493.75" y="224.1" width="9.35" height="2.8" fill="#fff"/>
<rect x="509.2" y="221.83" width="3.18" height="2.6" fill="#fff"/>
<rect x="512.8" y="223.26" width="3.18" height="2.6" fill="#fff"/>
<rect x="516.2" y="224.73" width="3.18" height="2.6" fill="#fff"/>
<rect x="519.8" y="225.1" width="9.8" height="2.8" fill="#fff"/>
<rect x="532.1" y="219.88" width="3.32" height="2.6" fill="#fff"/>
<rect x="535.86" y="220.88" width="3.32" height="2.6" fill="#fff"/>
<rect x="539.39" y="220.64" width="3.32" height="2.6" fill="#fff"/>
<rect x="543.15" y="221.8" width="10.25" height="2.8" fill="#fff"/>
<rect x="558.6" y="220.36" width="3.45" height="2.6" fill="#fff"/>
<rect x="562.51" y="221" width="3.45" height="2.6" fill="#fff"/>
<rect x="566.19" y="222.25" width="3.45" height="2.6" fill="#fff"/>
<rect x="570.1" y="223.1" width="10.7" height="2.8" fill="#fff"/>
<rect x="581.6" y="221.49" width="3.32" height="2.6" fill="#fff"/>
<rect x="585.36" y="221.72" width="3.32" height="2.6" fill="#fff"/>
<rect x="588.89" y="222.86" width="3.32" height="2.6" fill="#fff"/>
<rect x="592.65" y="224.1" width="10.25" height="2.8" fill="#fff"/>
<rect x="607.2" y="222.14" width="3.57" height="2.6" fill="#fff"/>
<rect x="611.25" y="223.8" width="3.57" height="2.6" fill="#fff"/>
<rect x="615.05" y="224.52" width="3.57" height="2.6" fill="#fff"/>
<rect x="619.1" y="225.1" width="11.1" height="2.8" fill="#fff"/>
<rect x="631.9" y="220.69" width="3.45" height="2.6" fill="#fff"/>
<rect x="635.81" y="222.06" width="3.45" height="2.6" fill="#fff"/>
<rect x="639.49" y="221.87" width="3.45" height="2.6" fill="#fff"/>
<rect x="643.4" y="222.9" width="10.7" height="2.8" fill="#fff"/>
<path d="M14 195.5H1181M14.5 196V252M1180.5 196V252" stroke="#fff" stroke-opacity="0.33" stroke-width="1" fill="none"/>
<path d="M14 252.5H1181" stroke="#fff" stroke-opacity="0.15" stroke-width="1" fill="none"/>
<text x="38" y="204" fill="#fff" font-weight="bold" font-size="19.4">AltoSax</text>
</g>
<g>
<rect x="14" y="255" width="1167" height="58" fill="#55007f"/>
<line x1="219.5" y1="255" x2="219.5" y2="313" stroke="#832ead" stroke-width="1"/>
<line x1="424.5" y1="255" x2="424.5" y2="313" stroke="#832ead" stroke-width="1"/>
<line x1="628.5" y1="255" x2="628.5" y2="313" stroke="#832ead" stroke-width="1"/>
<line x1="833.5" y1="255" x2="833.5" y2="313" stroke="#832ead" stroke-width="1"/>
<line x1="1038.5" y1="255" x2="1038.5" y2="313" stroke="#832ead" stroke-width="1"/>
<rect x="30" y="281.1" width="2.5" height="3" fill="#fff"/>
<rect x="35.9" y="281.9" width="1.6" height="3" fill="#fff"/>
<rect x="38.4" y="279.6" width="4.16" height="3" fill="#fff"/>
<rect x="43.36" y="279.6" width="1.74" height="3" fill="#fff"/>
<rect x="48.5" y="279.6" width="6.87" height="3" fill="#fff"/>
<rect x="56.17" y="280.8" width="0.73" height="3" fill="#fff"/>
<rect x="59.4" y="280.2" width="1.8" height="3" fill="#fff"/>
<rect x="62.7" y="281" width="1.8" height="3" fill="#fff"/>
<rect x="70.4" y="279.6" width="3.3" height="3" fill="#fff"/>
<rect x="76.2" y="282.9" width="3.5" height="3.2" fill="#fff"/>
<rect x="80.9" y="282.9" width="3.5" height="3.2" fill="#fff"/>
<rect x="85.6" y="282.9" width="0.7" height="3.2" fill="#fff"/>
<rect x="88.9" y="283.4" width="3.5" height="3.2" fill="#fff"/>
<rect x="93.6" y="283.4" width="3.5" height="3.2" fill="#fff"/>
<rect x="98.3" y="283.4" width="0.7" height="3.2" fill="#fff"/>
<rect x="100.6" y="283.7" width="4.23" height="3" fill="#fff"/>
<rect x="105.63" y="283.1" width="4.44" height="3" fill="#fff"/>
<rect x="110.88" y="283.7" width="3.56" height="3" fill="#fff"/>
<rect x="115.24" y="283.1" width="1.36" height="3" fill="#fff"/>
<rect x="116.6" y="283.4" width="3.5" height="3.2" fill="#fff"/>
<rect x="121.3" y="283.4" width="2" height="3.2" fill="#fff"/>
<rect x="125.9" y="283.1" width="6.68" height="3" fill="#fff"/>
<rect x="133.38" y="283.1" width="3.42" height="3" fill="#fff"/>
<rect x="140.2" y="279.6" width="5.25" height="3" fill="#fff"/>
<rect x="146.25" y="280.2" width="3.15" height="3" fill="#fff"/>
<rect x="158.7" y="281.3" width="1.8" height="3" fill="#fff"/>
<rect x="162" y="282.1" width="1.7" height="3" fill="#fff"/>
<rect x="168.8" y="283.1" width="3.5" height="3.2" fill="#fff"/>
<rect x="173.5" y="283.1" width="3.5" height="3.2" fill="#fff"/>
<rect x="178.2" y="283.1" width="3.5" height="3.2" fill="#fff"/>
<rect x="182.9" y="283.1" width="3.5" height="3.2" fill="#fff"/>
<rect x="187.6" y="283.1" width="3.5" height="3.2" fill="#fff"/>
<rect x="192.3" y="283.1" width="3.5" height="3.2" fill="#fff"/>
<rect x="199" y="283.7" width="7.33" height="3" fill="#fff"/>
<rect x="207.13" y="283.1" width="5.49" height="3" fill="#fff"/>
<rect x="213.42" y="283.1" width="1.58" height="3" fill="#fff"/>
<rect x="215.5" y="284.8" width="7.2" height="3" fill="#fff"/>
<rect x="223.2" y="283.3" width="3.59" height="3" fill="#fff"/>
<rect x="227.59" y="283.3" width="4" height="3" fill="#fff"/>
<rect x="232.39" y="283.9" width="5.31" height="3" fill="#fff"/>
<rect x="238.5" y="282.7" width="6.41" height="3" fill="#fff"/>
<rect x="245.72" y="283.3" width="2.28" height="3" fill="#fff"/>
<rect x="248.5" y="283.6" width="3.5" height="3.2" fill="#fff"/>
<rect x="253.2" y="283.6" width="3.5" height="3.2" fill="#fff"/>
<rect x="257.9" y="283.6" width="3.5" height="3.2" fill="#fff"/>
<rect x="266.9" y="281.3" width="2.5" height="3" fill="#fff"/>
<rect x="271.9" y="284.6" width="3.5" height="3.2" fill="#fff"/>
<rect x="276.6" y="284.6" width="3.5" height="3.2" fill="#fff"/>
<rect x="281.3" y="284.6" width="3.5" height="3.2" fill="#fff"/>
<rect x="286" y="284.6" width="3.5" height="3.2" fill="#fff"/>
<rect x="290.7" y="284.6" width="3.5" height="3.2" fill="#fff"/>
<rect x="295.4" y="284.6" width="0.5" height="3.2" fill="#fff"/>
<rect x="297.1" y="280.2" width="6.16" height="3" fill="#fff"/>
<rect x="304.06" y="280.8" width="6.96" height="3" fill="#fff"/>
<rect x="311.82" y="280.8" width="3.8" height="3" fill="#fff"/>
<rect x="316.42" y="281.4" width="0.88" height="3" fill="#fff"/>
<rect x="321" y="284.9" width="3.5" height="3.2" fill="#fff"/>
<rect x="325.7" y="284.9" width="3.5" height="3.2" fill="#fff"/>
<rect x="330.4" y="284.9" width="3.5" height="3.2" fill="#fff"/>
<rect x="335.1" y="284.9" width="3.5" height="3.2" fill="#fff"/>
<rect x="339.8" y="284.9" width="3.5" height="3.2" fill="#fff"/>
<rect x="344.5" y="284.9" width="0.5" height="3.2" fill="#fff"/>
<rect x="346.4" y="283.3" width="7.46" height="3" fill="#fff"/>
<rect x="354.66" y="282.7" width="3.99" height="3" fill="#fff"/>
<rect x="359.45" y="282.7" width="5.74" height="3" fill="#fff"/>
<rect x="365.98" y="283.3" width="4.3" height="3" fill="#fff"/>
<rect x="371.09" y="282.7" width="7.05" height="3" fill="#fff"/>
<rect x="378.94" y="282.7" width="4.67" height="3" fill="#fff"/>
<rect x="384.4" y="283.3" width="2.3" height="3" fill="#fff"/>
<rect x="388" y="284.1" width="3.5" height="3.2" fill="#fff"/>
<rect x="392.7" y="284.1" width="3.5" height="3.2" fill="#fff"/>
<rect x="397.4" y="284.1" width="3.5" height="3.2" fill="#fff"/>
<rect x="402.1" y="284.1" width="3.5" height="3.2" fill="#fff"/>
<rect x="406.8" y="284.1" width="3.5" height="3.2" fill="#fff"/>
<rect x="411.5" y="284.1" width="3.5" height="3.2" fill="#fff"/>
<rect x="416.2" y="284.1" width="3.3" height="3.2" fill="#fff"/>
<rect x="419.5" y="282.7" width="7.48" height="3" fill="#fff"/>
<rect x="427.78" y="283.3" width="4.56" height="3" fill="#fff"/>
<rect x="433.14" y="282.7" width="4.14" height="3" fill="#fff"/>
<rect x="438.08" y="283.3" width="3.51" height="3" fill="#fff"/>
<rect x="442.39" y="283.9" width="5.7" height="3" fill="#fff"/>
<rect x="448.89" y="283.9" width="3.41" height="3" fill="#fff"/>
<rect x="456" y="281.3" width="2.6" height="3" fill="#fff"/>
<rect x="463.7" y="284.1" width="3.5" height="3.2" fill="#fff"/>
<rect x="468.4" y="284.1" width="3.5" height="3.2" fill="#fff"/>
<rect x="473.1" y="284.1" width="3.5" height="3.2" fill="#fff"/>
<rect x="477.8" y="284.1" width="3.5" height="3.2" fill="#fff"/>
<rect x="482.5" y="284.1" width="3.5" height="3.2" fill="#fff"/>
<rect x="487.2" y="284.1" width="3.5" height="3.2" fill="#fff"/>
<rect x="491.9" y="284.1" width="3.5" height="3.2" fill="#fff"/>
<rect x="496.6" y="284.1" width="3.4" height="3.2" fill="#fff"/>
<rect x="500" y="283.8" width="7.6" height="3" fill="#fff"/>
<rect x="508.8" y="284.8" width="7.6" height="3" fill="#fff"/>
<rect x="518.9" y="283.9" width="4.77" height="3" fill="#fff"/>
<rect x="524.47" y="283.3" width="3.95" height="3" fill="#fff"/>
<rect x="529.23" y="283.3" width="6.01" height="3" fill="#fff"/>
<rect x="536.6" y="280.8" width="5" height="3" fill="#fff"/>
<rect x="550.5" y="281.3" width="1.7" height="3" fill="#fff"/>
<rect x="553" y="282.3" width="1.6" height="3" fill="#fff"/>
<rect x="561.8" y="283.9" width="3.5" height="3.2" fill="#fff"/>
<rect x="566.5" y="283.9" width="3.5" height="3.2" fill="#fff"/>
<rect x="571.2" y="283.9" width="3.5" height="3.2" fill="#fff"/>
<rect x="575.9" y="283.9" width="3.5" height="3.2" fill="#fff"/>
<rect x="580.6" y="283.9" width="3.5" height="3.2" fill="#fff"/>
<rect x="585.3" y="283.9" width="3.5" height="3.2" fill="#fff"/>
<rect x="590" y="283.9" width="3.5" height="3.2" fill="#fff"/>
<rect x="594.7" y="283.9" width="3.5" height="3.2" fill="#fff"/>
<rect x="599.4" y="283.9" width="3.5" height="3.2" fill="#fff"/>
<rect x="604.1" y="283.9" width="3.5" height="3.2" fill="#fff"/>
<rect x="608.8" y="283.9" width="3.5" height="3.2" fill="#fff"/>
<rect x="613.5" y="283.9" width="3.5" height="3.2" fill="#fff"/>
<rect x="618.2" y="283.9" width="3.5" height="3.2" fill="#fff"/>
<rect x="632.5" y="284.2" width="4.89" height="3" fill="#fff"/>
<rect x="638.19" y="283.6" width="7.22" height="3" fill="#fff"/>
<rect x="646.21" y="283.6" width="3.91" height="3" fill="#fff"/>
<rect x="650.92" y="283.6" width="3.08" height="3" fill="#fff"/>
<rect x="655" y="281.3" width="1.5" height="3" fill="#fff"/>
<rect x="659" y="284.1" width="3.5" height="3.2" fill="#fff"/>
<rect x="663.7" y="284.1" width="3.5" height="3.2" fill="#fff"/>
<rect x="668.4" y="284.1" width="3.5" height="3.2" fill="#fff"/>
<rect x="673.1" y="284.1" width="3.5" height="3.2" fill="#fff"/>
<rect x="677.8" y="284.1" width="3.5" height="3.2" fill="#fff"/>
<rect x="682.5" y="284.1" width="3.5" height="3.2" fill="#fff"/>
<rect x="687.2" y="284.1" width="1.8" height="3.2" fill="#fff"/>
<rect x="690.5" y="280.8" width="6.61" height="3" fill="#fff"/>
<rect x="697.91" y="280.8" width="4.14" height="3" fill="#fff"/>
<rect x="702.85" y="280.8" width="6.2" height="3" fill="#fff"/>
<rect x="714.5" y="284.9" width="3.5" height="3.2" fill="#fff"/>
<rect x="719.2" y="284.9" width="3.5" height="3.2" fill="#fff"/>
<rect x="723.9" y="284.9" width="3.5" height="3.2" fill="#fff"/>
<rect x="728.6" y="284.9" width="3.5" height="3.2" fill="#fff"/>
<rect x="733.3" y="284.9" width="3.5" height="3.2" fill="#fff"/>
<rect x="739.7" y="283.6" width="5.13" height="3" fill="#fff"/>
<rect x="745.63" y="284.2" width="7.35" height="3" fill="#fff"/>
<rect x="753.77" y="283.6" width="3.56" height="3" fill="#fff"/>
<rect x="758.13" y="283" width="5.46" height="3" fill="#fff"/>
<rect x="764.39" y="283.6" width="6.17" height="3" fill="#fff"/>
<rect x="771.36" y="283.6" width="4.15" height="3" fill="#fff"/>
<rect x="776.31" y="283" width="5.26" height="3" fill="#fff"/>
<rect x="782.37" y="283" width="6.6" height="3" fill="#fff"/>
<rect x="789.76" y="283.6" width="3.73" height="3" fill="#fff"/>
<rect x="794.29" y="283.6" width="3.71" height="3" fill="#fff"/>
<rect x="798.8" y="283.6" width="1.2" height="3" fill="#fff"/>
<rect x="800" y="283.6" width="3.8" height="3" fill="#fff"/>
<rect x="805" y="284.6" width="6.4" height="3" fill="#fff"/>
<rect x="813.9" y="283.3" width="5.18" height="3" fill="#fff"/>
<rect x="819.88" y="283.3" width="5.08" height="3" fill="#fff"/>
<rect x="825.76" y="283.3" width="3.24" height="3" fill="#fff"/>
<rect x="831.5" y="280.2" width="7.43" height="3" fill="#fff"/>
<rect x="839.73" y="280.8" width="3.7" height="3" fill="#fff"/>
<rect x="844.23" y="281.4" width="3.77" height="3" fill="#fff"/>
<rect x="850.5" y="282.3" width="1.5" height="3" fill="#fff"/>
<rect x="856.8" y="284.1" width="3.5" height="3.2" fill="#fff"/>
<rect x="861.5" y="284.1" width="3.5" height="3.2" fill="#fff"/>
<rect x="866.2" y="284.1" width="3.5" height="3.2" fill="#fff"/>
<rect x="870.9" y="284.1" width="2.3" height="3.2" fill="#fff"/>
<rect x="874.4" y="283.5" width="7.15" height="3" fill="#fff"/>
<rect x="882.35" y="284.1" width="3.61" height="3" fill="#fff"/>
<rect x="886.76" y="284.1" width="7.1" height="3" fill="#fff"/>
<rect x="894.66" y="284.1" width="5.04" height="3" fill="#fff"/>
<rect x="903.5" y="283" width="5.91" height="3" fill="#fff"/>
<rect x="910.21" y="283" width="5.44" height="3" fill="#fff"/>
<rect x="916.44" y="284.2" width="4.73" height="3" fill="#fff"/>
<rect x="921.98" y="283.6" width="1.62" height="3" fill="#fff"/>
<rect x="926" y="283.6" width="6.57" height="3" fill="#fff"/>
<rect x="933.37" y="283.6" width="1.63" height="3" fill="#fff"/>
<rect x="945" y="282.8" width="1.6" height="3" fill="#fff"/>
<rect x="947.5" y="280.8" width="1.5" height="3" fill="#fff"/>
<rect x="955" y="284.3" width="7.32" height="3" fill="#fff"/>
<rect x="963.12" y="284.3" width="4.56" height="3" fill="#fff"/>
<rect x="968.47" y="284.9" width="6.08" height="3" fill="#fff"/>
<rect x="975.35" y="283.7" width="3.65" height="3" fill="#fff"/>
<rect x="979" y="281.8" width="6.5" height="3" fill="#fff"/>
<rect x="985.5" y="280.8" width="6.51" height="3" fill="#fff"/>
<rect x="992.81" y="280.8" width="4.03" height="3" fill="#fff"/>
<rect x="997.64" y="280.8" width="5.09" height="3" fill="#fff"/>
<rect x="1003.53" y="280.2" width="0.87" height="3" fill="#fff"/>
<rect x="1009.5" y="283.9" width="3.5" height="3.2" fill="#fff"/>
<rect x="1014.2" y="283.9" width="3.5" height="3.2" fill="#fff"/>
<rect x="1018.9" y="283.9" width="3.5" height="3.2" fill="#fff"/>
<rect x="1023.6" y="283.9" width="3.5" height="3.2" fill="#fff"/>
<rect x="1028.3" y="283.9" width="3.5" height="3.2" fill="#fff"/>
<rect x="1034.2" y="282" width="6.64" height="3" fill="#fff"/>
<rect x="1041.64" y="282" width="4.46" height="3" fill="#fff"/>
<rect x="1046.1" y="282.9" width="3.5" height="3.2" fill="#fff"/>
<rect x="1050.8" y="282.9" width="3.5" height="3.2" fill="#fff"/>
<rect x="1055.5" y="282.9" width="3.5" height="3.2" fill="#fff"/>
<rect x="1060.2" y="282.9" width="3.5" height="3.2" fill="#fff"/>
<rect x="1064.9" y="282.9" width="3.5" height="3.2" fill="#fff"/>
<rect x="1071.5" y="283.8" width="3.5" height="3.2" fill="#fff"/>
<rect x="1076.2" y="283.8" width="3.5" height="3.2" fill="#fff"/>
<rect x="1083.5" y="283.4" width="4.01" height="3" fill="#fff"/>
<rect x="1088.31" y="282.2" width="7.09" height="3" fill="#fff"/>
<rect x="1098.6" y="283.8" width="3.5" height="3.2" fill="#fff"/>
<rect x="1103.3" y="283.8" width="3.2" height="3.2" fill="#fff"/>
<rect x="1108" y="282.8" width="5.48" height="3" fill="#fff"/>
<rect x="1114.28" y="282.8" width="5.72" height="3" fill="#fff"/>
<rect x="1124" y="282.9" width="3.5" height="3.2" fill="#fff"/>
<rect x="1128.7" y="282.9" width="1.7" height="3.2" fill="#fff"/>
<rect x="1132.7" y="282.7" width="4.24" height="3" fill="#fff"/>
<rect x="1137.74" y="283.9" width="4.31" height="3" fill="#fff"/>
<rect x="1142.84" y="283.9" width="5.76" height="3" fill="#fff"/>
<path d="M14 255.5H1181M14.5 256V312M1180.5 256V312" stroke="#fff" stroke-opacity="0.33" stroke-width="1" fill="none"/>
<path d="M14 312.5H1181" stroke="#fff" stroke-opacity="0.15" stroke-width="1" fill="none"/>
<text x="38" y="264" fill="#fff" font-weight="bold" font-size="19.4">Trombone</text>
</g>
<g>
<rect x="14" y="315" width="1167" height="58" fill="#007f7f"/>
<line x1="219.5" y1="315" x2="219.5" y2="373" stroke="#2eadad" stroke-width="1"/>
<line x1="424.5" y1="315" x2="424.5" y2="373" stroke="#2eadad" stroke-width="1"/>
<line x1="628.5" y1="315" x2="628.5" y2="373" stroke="#2eadad" stroke-width="1"/>
<line x1="833.5" y1="315" x2="833.5" y2="373" stroke="#2eadad" stroke-width="1"/>
<line x1="1038.5" y1="315" x2="1038.5" y2="373" stroke="#2eadad" stroke-width="1"/>
<rect x="29" y="345.8" width="4" height="2.9" fill="#fff"/>
<rect x="36.7" y="345.3" width="3.3" height="2.9" fill="#fff"/>
<rect x="41.5" y="344.3" width="4" height="2.9" fill="#fff"/>
<rect x="49.3" y="343.8" width="2.7" height="2.9" fill="#fff"/>
<rect x="53" y="342.8" width="4" height="2.9" fill="#fff"/>
<rect x="58" y="343.3" width="3.5" height="2.9" fill="#fff"/>
<rect x="63" y="344.3" width="2.7" height="2.9" fill="#fff"/>
<rect x="69.5" y="346.4" width="3.5" height="3.1" fill="#fff"/>
<rect x="74.2" y="346.4" width="3.5" height="3.1" fill="#fff"/>
<rect x="78.9" y="346.4" width="3.5" height="3.1" fill="#fff"/>
<rect x="83.6" y="346.4" width="3.5" height="3.1" fill="#fff"/>
<rect x="88.3" y="346.4" width="3.5" height="3.1" fill="#fff"/>
<rect x="93" y="346.4" width="3.5" height="3.1" fill="#fff"/>
<rect x="97.7" y="346.4" width="3.5" height="3.1" fill="#fff"/>
<rect x="102.4" y="346.4" width="3.5" height="3.1" fill="#fff"/>
<rect x="107.1" y="346.4" width="3.5" height="3.1" fill="#fff"/>
<rect x="111.8" y="346.4" width="3.5" height="3.1" fill="#fff"/>
<rect x="116.2" y="348.4" width="3.5" height="3.1" fill="#fff"/>
<rect x="120.9" y="348.4" width="2.9" height="3.1" fill="#fff"/>
<rect x="125" y="346.6" width="3.55" height="2.9" fill="#fff"/>
<rect x="129.35" y="346.6" width="6.56" height="2.9" fill="#fff"/>
<rect x="136.71" y="346.6" width="3.29" height="2.9" fill="#fff"/>
<rect x="141.4" y="345.3" width="2.6" height="2.9" fill="#fff"/>
<rect x="145" y="343.3" width="3" height="2.9" fill="#fff"/>
<rect x="149" y="344.3" width="2.5" height="2.9" fill="#fff"/>
<rect x="161.6" y="345.8" width="1.2" height="2.9" fill="#fff"/>
<rect x="168" y="346.4" width="3.5" height="3.1" fill="#fff"/>
<rect x="172.7" y="346.4" width="3.5" height="3.1" fill="#fff"/>
<rect x="177.4" y="346.4" width="3.5" height="3.1" fill="#fff"/>
<rect x="182.1" y="346.4" width="3.5" height="3.1" fill="#fff"/>
<rect x="186.8" y="346.4" width="3.5" height="3.1" fill="#fff"/>
<rect x="191.5" y="346.4" width="3.5" height="3.1" fill="#fff"/>
<rect x="196.2" y="346.4" width="3.5" height="3.1" fill="#fff"/>
<rect x="200.9" y="346.4" width="3.5" height="3.1" fill="#fff"/>
<rect x="205.6" y="346.4" width="3.5" height="3.1" fill="#fff"/>
<rect x="210.3" y="346.4" width="3.5" height="3.1" fill="#fff"/>
<rect x="214.6" y="348.4" width="3.5" height="3.1" fill="#fff"/>
<rect x="219.3" y="348.4" width="3.5" height="3.1" fill="#fff"/>
<rect x="223.4" y="346.7" width="7.3" height="2.9" fill="#fff"/>
<rect x="231.5" y="346.1" width="4.43" height="2.9" fill="#fff"/>
<rect x="238.6" y="345.8" width="2.4" height="2.9" fill="#fff"/>
<rect x="243" y="346.3" width="4" height="2.9" fill="#fff"/>
<rect x="249" y="347.3" width="4" height="2.9" fill="#fff"/>
<rect x="254" y="348.3" width="4" height="2.9" fill="#fff"/>
<rect x="259" y="346.3" width="3.5" height="2.9" fill="#fff"/>
<rect x="266.3" y="345.8" width="2.6" height="2.9" fill="#fff"/>
<rect x="271.4" y="347.6" width="3.5" height="3.1" fill="#fff"/>
<rect x="276.1" y="347.6" width="3.5" height="3.1" fill="#fff"/>
<rect x="280.8" y="347.6" width="3.5" height="3.1" fill="#fff"/>
<rect x="285.5" y="347.6" width="3.5" height="3.1" fill="#fff"/>
<rect x="290.2" y="347.6" width="3.5" height="3.1" fill="#fff"/>
<rect x="294.9" y="347.6" width="1.7" height="3.1" fill="#fff"/>
<rect x="296.6" y="345.8" width="4.09" height="2.9" fill="#fff"/>
<rect x="301.49" y="345.8" width="6.15" height="2.9" fill="#fff"/>
<rect x="308.44" y="345.2" width="4.42" height="2.9" fill="#fff"/>
<rect x="313.66" y="345.8" width="4.04" height="2.9" fill="#fff"/>
<rect x="321.4" y="347.6" width="3.5" height="3.1" fill="#fff"/>
<rect x="326.1" y="347.6" width="3.5" height="3.1" fill="#fff"/>
<rect x="330.8" y="347.6" width="3.5" height="3.1" fill="#fff"/>
<rect x="335.5" y="347.6" width="3.5" height="3.1" fill="#fff"/>
<rect x="340.2" y="347.6" width="3.5" height="3.1" fill="#fff"/>
<rect x="344.9" y="347.6" width="0.5" height="3.1" fill="#fff"/>
<rect x="346.7" y="342.3" width="7.49" height="2.9" fill="#fff"/>
<rect x="354.99" y="341.7" width="3.01" height="2.9" fill="#fff"/>
<rect x="359.3" y="346.4" width="3.5" height="3.1" fill="#fff"/>
<rect x="364" y="346.4" width="3.5" height="3.1" fill="#fff"/>
<rect x="368.7" y="346.4" width="3.5" height="3.1" fill="#fff"/>
<rect x="373.4" y="346.4" width="3.5" height="3.1" fill="#fff"/>
<rect x="378.1" y="346.4" width="3.5" height="3.1" fill="#fff"/>
<rect x="382.8" y="346.4" width="3.5" height="3.1" fill="#fff"/>
<rect x="387.5" y="346.4" width="3.5" height="3.1" fill="#fff"/>
<rect x="392.2" y="346.4" width="3.5" height="3.1" fill="#fff"/>
<rect x="396.9" y="346.4" width="3.5" height="3.1" fill="#fff"/>
<rect x="401.6" y="346.4" width="3.5" height="3.1" fill="#fff"/>
<rect x="406.3" y="346.4" width="3.5" height="3.1" fill="#fff"/>
<rect x="411" y="348.4" width="3.5" height="3.1" fill="#fff"/>
<rect x="415.7" y="348.4" width="2.9" height="3.1" fill="#fff"/>
<rect x="421" y="346.6" width="4.87" height="2.9" fill="#fff"/>
<rect x="426.67" y="346.6" width="4.82" height="2.9" fill="#fff"/>
<rect x="432.29" y="346.6" width="5.89" height="2.9" fill="#fff"/>
<rect x="438.97" y="346.6" width="4.34" height="2.9" fill="#fff"/>
<rect x="444.12" y="347.2" width="4.78" height="2.9" fill="#fff"/>
<rect x="450" y="348.6" width="5" height="2.9" fill="#fff"/>
<rect x="457.7" y="345.8" width="1.1" height="2.9" fill="#fff"/>
<rect x="464" y="346.4" width="3.5" height="3.1" fill="#fff"/>
<rect x="468.7" y="346.4" width="3.5" height="3.1" fill="#fff"/>
<rect x="473.4" y="346.4" width="3.5" height="3.1" fill="#fff"/>
<rect x="478.1" y="346.4" width="3.5" height="3.1" fill="#fff"/>
<rect x="482.8" y="346.4" width="3.5" height="3.1" fill="#fff"/>
<rect x="487.5" y="346.4" width="3.5" height="3.1" fill="#fff"/>
<rect x="492.2" y="346.4" width="3.5" height="3.1" fill="#fff"/>
<rect x="496.9" y="346.4" width="3.5" height="3.1" fill="#fff"/>
<rect x="501.6" y="346.4" width="2.8" height="3.1" fill="#fff"/>
<rect x="509.4" y="348.4" width="3.5" height="3.1" fill="#fff"/>
<rect x="514.1" y="348.4" width="2.9" height="3.1" fill="#fff"/>
<rect x="518.3" y="345.8" width="3.74" height="2.9" fill="#fff"/>
<rect x="522.84" y="345.8" width="6.85" height="2.9" fill="#fff"/>
<rect x="530.49" y="345.8" width="4.04" height="2.9" fill="#fff"/>
<rect x="536" y="343.3" width="2.5" height="2.9" fill="#fff"/>
<rect x="540" y="342.3" width="3.5" height="2.9" fill="#fff"/>
<rect x="551" y="345.8" width="1.2" height="2.9" fill="#fff"/>
<rect x="553.5" y="344.8" width="1.4" height="2.9" fill="#fff"/>
<rect x="561" y="346.4" width="3.5" height="3.1" fill="#fff"/>
<rect x="565.7" y="346.4" width="3.5" height="3.1" fill="#fff"/>
<rect x="570.4" y="346.4" width="3.5" height="3.1" fill="#fff"/>
<rect x="575.1" y="346.4" width="3.5" height="3.1" fill="#fff"/>
<rect x="579.8" y="346.4" width="3.5" height="3.1" fill="#fff"/>
<rect x="584.5" y="346.4" width="3.5" height="3.1" fill="#fff"/>
<rect x="589.2" y="346.4" width="3.5" height="3.1" fill="#fff"/>
<rect x="593.9" y="346.4" width="3.5" height="3.1" fill="#fff"/>
<rect x="598.6" y="346.4" width="1.4" height="3.1" fill="#fff"/>
<rect x="600" y="346.6" width="5" height="2.9" fill="#fff"/>
<rect x="607.6" y="348" width="6.85" height="2.9" fill="#fff"/>
<rect x="616.4" y="346.4" width="3.62" height="2.9" fill="#fff"/>
<rect x="620.82" y="345.8" width="6.97" height="2.9" fill="#fff"/>
<rect x="632.8" y="345.8" width="2.2" height="2.9" fill="#fff"/>
<rect x="636.5" y="345.8" width="2.5" height="2.9" fill="#fff"/>
<rect x="644" y="346.8" width="4" height="2.9" fill="#fff"/>
<rect x="649" y="348.3" width="5" height="2.9" fill="#fff"/>
<rect x="659.3" y="346.3" width="2.7" height="2.9" fill="#fff"/>
<rect x="663.5" y="348.1" width="3.5" height="3.1" fill="#fff"/>
<rect x="668.2" y="348.1" width="2.5" height="3.1" fill="#fff"/>
<rect x="675.7" y="347.6" width="3.5" height="3.1" fill="#fff"/>
<rect x="680.4" y="347.6" width="3.5" height="3.1" fill="#fff"/>
<rect x="685.1" y="347.6" width="3.5" height="3.1" fill="#fff"/>
<rect x="690.8" y="344.2" width="4.33" height="2.9" fill="#fff"/>
<rect x="695.93" y="344.8" width="6.42" height="2.9" fill="#fff"/>
<rect x="703.15" y="344.8" width="4.82" height="2.9" fill="#fff"/>
<rect x="708.77" y="344.8" width="1.03" height="2.9" fill="#fff"/>
<rect x="714.8" y="347.6" width="3.5" height="3.1" fill="#fff"/>
<rect x="719.5" y="347.6" width="3.5" height="3.1" fill="#fff"/>
<rect x="724.2" y="347.6" width="3.5" height="3.1" fill="#fff"/>
<rect x="728.9" y="347.6" width="3.5" height="3.1" fill="#fff"/>
<rect x="733.6" y="347.6" width="3.5" height="3.1" fill="#fff"/>
<rect x="740" y="342.3" width="4.84" height="2.9" fill="#fff"/>
<rect x="745.64" y="341.7" width="5.76" height="2.9" fill="#fff"/>
<rect x="751.4" y="346.4" width="3.5" height="3.1" fill="#fff"/>
<rect x="756.1" y="346.4" width="3.5" height="3.1" fill="#fff"/>
<rect x="760.8" y="346.4" width="3.5" height="3.1" fill="#fff"/>
<rect x="765.5" y="346.4" width="3.5" height="3.1" fill="#fff"/>
<rect x="770.2" y="346.4" width="3.5" height="3.1" fill="#fff"/>
<rect x="774.9" y="346.4" width="3.5" height="3.1" fill="#fff"/>
<rect x="779.6" y="346.4" width="3.5" height="3.1" fill="#fff"/>
<rect x="784.3" y="346.4" width="3.5" height="3.1" fill="#fff"/>
<rect x="789" y="346.4" width="3.5" height="3.1" fill="#fff"/>
<rect x="793.7" y="346.4" width="3.5" height="3.1" fill="#fff"/>
<rect x="798.4" y="346.4" width="3.5" height="3.1" fill="#fff"/>
<rect x="804.4" y="348.4" width="3.5" height="3.1" fill="#fff"/>
<rect x="809.1" y="348.4" width="2.9" height="3.1" fill="#fff"/>
<rect x="813.2" y="345.8" width="6.09" height="2.9" fill="#fff"/>
<rect x="820.09" y="345.8" width="7.35" height="2.9" fill="#fff"/>
<rect x="828.23" y="345.8" width="1.37" height="2.9" fill="#fff"/>
<rect x="830.9" y="343.8" width="6.3" height="2.9" fill="#fff"/>
<rect x="837.2" y="345.4" width="7.09" height="2.9" fill="#fff"/>
<rect x="845.09" y="345.4" width="0.91" height="2.9" fill="#fff"/>
<rect x="849.8" y="345.8" width="1.2" height="2.9" fill="#fff"/>
<rect x="856" y="346.4" width="3.5" height="3.1" fill="#fff"/>
<rect x="860.7" y="346.4" width="3.5" height="3.1" fill="#fff"/>
<rect x="865.4" y="346.4" width="3.5" height="3.1" fill="#fff"/>
<rect x="870.1" y="346.4" width="3.5" height="3.1" fill="#fff"/>
<rect x="874.8" y="346.4" width="3.5" height="3.1" fill="#fff"/>
<rect x="879.5" y="346.4" width="3.5" height="3.1" fill="#fff"/>
<rect x="884.2" y="346.4" width="3.5" height="3.1" fill="#fff"/>
<rect x="888.9" y="346.4" width="3.5" height="3.1" fill="#fff"/>
<rect x="893.6" y="346.4" width="3.5" height="3.1" fill="#fff"/>
<rect x="902.6" y="348.4" width="3.5" height="3.1" fill="#fff"/>
<rect x="907.3" y="348.4" width="2.7" height="3.1" fill="#fff"/>
<rect x="911.4" y="345.8" width="6.85" height="2.9" fill="#fff"/>
<rect x="919.05" y="345.8" width="3.65" height="2.9" fill="#fff"/>
<rect x="926.5" y="345.6" width="3.5" height="3.1" fill="#fff"/>
<rect x="931.2" y="345.6" width="3.5" height="3.1" fill="#fff"/>
<rect x="939" y="345.8" width="1.2" height="2.9" fill="#fff"/>
<rect x="947.5" y="345.3" width="1.2" height="2.9" fill="#fff"/>
<rect x="954" y="345.6" width="3.5" height="3.1" fill="#fff"/>
<rect x="960.4" y="347.9" width="3.5" height="3.1" fill="#fff"/>
<rect x="965.1" y="347.9" width="3.5" height="3.1" fill="#fff"/>
<rect x="969.8" y="347.9" width="3.5" height="3.1" fill="#fff"/>
<rect x="974.5" y="347.9" width="3.5" height="3.1" fill="#fff"/>
<rect x="979.2" y="347.9" width="3.5" height="3.1" fill="#fff"/>
<rect x="985.5" y="345.4" width="3.62" height="2.9" fill="#fff"/>
<rect x="989.92" y="344.8" width="5" height="2.9" fill="#fff"/>
<rect x="995.71" y="344.8" width="6.18" height="2.9" fill="#fff"/>
<rect x="1002.69" y="344.8" width="1.71" height="2.9" fill="#fff"/>
<rect x="1009.4" y="347.6" width="3.5" height="3.1" fill="#fff"/>
<rect x="1014.1" y="347.6" width="3.5" height="3.1" fill="#fff"/>
<rect x="1018.8" y="347.6" width="3.5" height="3.1" fill="#fff"/>
<rect x="1023.5" y="347.6" width="3.5" height="3.1" fill="#fff"/>
<rect x="1028.2" y="347.6" width="3.5" height="3.1" fill="#fff"/>
<rect x="1034.6" y="342.3" width="3.96" height="2.9" fill="#fff"/>
<rect x="1039.36" y="341.7" width="6.54" height="2.9" fill="#fff"/>
<rect x="1047" y="346.4" width="3.5" height="3.1" fill="#fff"/>
<rect x="1051.7" y="346.4" width="3.5" height="3.1" fill="#fff"/>
<rect x="1056.4" y="346.4" width="3.5" height="3.1" fill="#fff"/>
<rect x="1061.1" y="346.4" width="3.5" height="3.1" fill="#fff"/>
<rect x="1065.8" y="346.4" width="3.5" height="3.1" fill="#fff"/>
<rect x="1070.5" y="346.4" width="3.5" height="3.1" fill="#fff"/>
<rect x="1075.2" y="346.4" width="3.5" height="3.1" fill="#fff"/>
<rect x="1079.9" y="346.4" width="3.5" height="3.1" fill="#fff"/>
<rect x="1084.6" y="346.4" width="3.5" height="3.1" fill="#fff"/>
<rect x="1089.3" y="346.4" width="3.5" height="3.1" fill="#fff"/>
<rect x="1094" y="346.4" width="2.2" height="3.1" fill="#fff"/>
<rect x="1098.7" y="348.4" width="3.5" height="3.1" fill="#fff"/>
<rect x="1103.4" y="348.4" width="1.6" height="3.1" fill="#fff"/>
<rect x="1107.5" y="345.8" width="5.11" height="2.9" fill="#fff"/>
<rect x="1113.41" y="345.8" width="5.39" height="2.9" fill="#fff"/>
<rect x="1123.8" y="345.6" width="3.5" height="3.1" fill="#fff"/>
<rect x="1128.5" y="345.6" width="2.9" height="3.1" fill="#fff"/>
<rect x="1132.6" y="347.6" width="3.5" height="3.1" fill="#fff"/>
<rect x="1137.3" y="347.6" width="3.5" height="3.1" fill="#fff"/>
<rect x="1142" y="347.6" width="2" height="3.1" fill="#fff"/>
<rect x="1145" y="344.3" width="2.7" height="2.9" fill="#fff"/>
<path d="M14 315.5H1181M14.5 316V372M1180.5 316V372" stroke="#fff" stroke-opacity="0.33" stroke-width="1" fill="none"/>
<path d="M14 372.5H1181" stroke="#fff" stroke-opacity="0.15" stroke-width="1" fill="none"/>
<text x="38" y="324" fill="#fff" font-weight="bold" font-size="19.4">BrasSect</text>
</g>
<g>
<rect x="14" y="374" width="1167" height="58" fill="#7f7f00"/>
<line x1="219.5" y1="374" x2="219.5" y2="432" stroke="#adad2e" stroke-width="1"/>
<line x1="424.5" y1="374" x2="424.5" y2="432" stroke="#adad2e" stroke-width="1"/>
<line x1="628.5" y1="374" x2="628.5" y2="432" stroke="#adad2e" stroke-width="1"/>
<line x1="833.5" y1="374" x2="833.5" y2="432" stroke="#adad2e" stroke-width="1"/>
<line x1="1038.5" y1="374" x2="1038.5" y2="432" stroke="#adad2e" stroke-width="1"/>
<rect x="29" y="403.2" width="4" height="2.9" fill="#fff"/>
<rect x="36.7" y="402.7" width="3.3" height="2.9" fill="#fff"/>
<rect x="41.5" y="401.7" width="4" height="2.9" fill="#fff"/>
<rect x="49.3" y="401.2" width="2.7" height="2.9" fill="#fff"/>
<rect x="53" y="400.2" width="4" height="2.9" fill="#fff"/>
<rect x="58" y="400.7" width="3.5" height="2.9" fill="#fff"/>
<rect x="63" y="401.7" width="2.7" height="2.9" fill="#fff"/>
<rect x="69.5" y="403.8" width="3.5" height="3.1" fill="#fff"/>
<rect x="74.2" y="403.8" width="3.5" height="3.1" fill="#fff"/>
<rect x="78.9" y="403.8" width="3.5" height="3.1" fill="#fff"/>
<rect x="83.6" y="403.8" width="3.5" height="3.1" fill="#fff"/>
<rect x="88.3" y="403.8" width="3.5" height="3.1" fill="#fff"/>
<rect x="93" y="403.8" width="3.5" height="3.1" fill="#fff"/>
<rect x="97.7" y="403.8" width="3.5" height="3.1" fill="#fff"/>
<rect x="102.4" y="403.8" width="3.5" height="3.1" fill="#fff"/>
<rect x="107.1" y="403.8" width="3.5" height="3.1" fill="#fff"/>
<rect x="111.8" y="403.8" width="3.5" height="3.1" fill="#fff"/>
<rect x="116.2" y="405.8" width="3.5" height="3.1" fill="#fff"/>
<rect x="120.9" y="405.8" width="2.9" height="3.1" fill="#fff"/>
<rect x="125" y="404" width="5.02" height="2.9" fill="#fff"/>
<rect x="130.82" y="403.4" width="7.47" height="2.9" fill="#fff"/>
<rect x="139.09" y="404" width="0.91" height="2.9" fill="#fff"/>
<rect x="141.4" y="402.7" width="2.6" height="2.9" fill="#fff"/>
<rect x="145" y="400.7" width="3" height="2.9" fill="#fff"/>
<rect x="149" y="401.7" width="2.5" height="2.9" fill="#fff"/>
<rect x="161.6" y="403.2" width="1.2" height="2.9" fill="#fff"/>
<rect x="168" y="403.8" width="3.5" height="3.1" fill="#fff"/>
<rect x="172.7" y="403.8" width="3.5" height="3.1" fill="#fff"/>
<rect x="177.4" y="403.8" width="3.5" height="3.1" fill="#fff"/>
<rect x="182.1" y="403.8" width="3.5" height="3.1" fill="#fff"/>
<rect x="186.8" y="403.8" width="3.5" height="3.1" fill="#fff"/>
<rect x="191.5" y="403.8" width="3.5" height="3.1" fill="#fff"/>
<rect x="196.2" y="403.8" width="3.5" height="3.1" fill="#fff"/>
<rect x="200.9" y="403.8" width="3.5" height="3.1" fill="#fff"/>
<rect x="205.6" y="403.8" width="3.5" height="3.1" fill="#fff"/>
<rect x="210.3" y="403.8" width="3.5" height="3.1" fill="#fff"/>
<rect x="214.6" y="405.8" width="3.5" height="3.1" fill="#fff"/>
<rect x="219.3" y="405.8" width="3.5" height="3.1" fill="#fff"/>
<rect x="223.4" y="402.9" width="5.71" height="2.9" fill="#fff"/>
<rect x="229.91" y="404.1" width="6.09" height="2.9" fill="#fff"/>
<rect x="238.6" y="403.2" width="2.4" height="2.9" fill="#fff"/>
<rect x="243" y="403.7" width="4" height="2.9" fill="#fff"/>
<rect x="249" y="404.7" width="4" height="2.9" fill="#fff"/>
<rect x="254" y="405.7" width="4" height="2.9" fill="#fff"/>
<rect x="259" y="403.7" width="3.5" height="2.9" fill="#fff"/>
<rect x="266.3" y="403.2" width="2.6" height="2.9" fill="#fff"/>
<rect x="271.4" y="405" width="3.5" height="3.1" fill="#fff"/>
<rect x="276.1" y="405" width="3.5" height="3.1" fill="#fff"/>
<rect x="280.8" y="405" width="3.5" height="3.1" fill="#fff"/>
<rect x="285.5" y="405" width="3.5" height="3.1" fill="#fff"/>
<rect x="290.2" y="405" width="3.5" height="3.1" fill="#fff"/>
<rect x="294.9" y="405" width="1.7" height="3.1" fill="#fff"/>
<rect x="296.6" y="403.2" width="3.54" height="2.9" fill="#fff"/>
<rect x="300.94" y="403.2" width="6.15" height="2.9" fill="#fff"/>
<rect x="307.88" y="403.2" width="5.26" height="2.9" fill="#fff"/>
<rect x="313.94" y="403.2" width="3.76" height="2.9" fill="#fff"/>
<rect x="321.4" y="405" width="3.5" height="3.1" fill="#fff"/>
<rect x="326.1" y="405" width="3.5" height="3.1" fill="#fff"/>
<rect x="330.8" y="405" width="3.5" height="3.1" fill="#fff"/>
<rect x="335.5" y="405" width="3.5" height="3.1" fill="#fff"/>
<rect x="340.2" y="405" width="3.5" height="3.1" fill="#fff"/>
<rect x="344.9" y="405" width="0.5" height="3.1" fill="#fff"/>
<rect x="346.7" y="400.3" width="4.17" height="2.9" fill="#fff"/>
<rect x="351.67" y="399.7" width="5.84" height="2.9" fill="#fff"/>
<rect x="359.3" y="403.8" width="3.5" height="3.1" fill="#fff"/>
<rect x="364" y="403.8" width="3.5" height="3.1" fill="#fff"/>
<rect x="368.7" y="403.8" width="3.5" height="3.1" fill="#fff"/>
<rect x="373.4" y="403.8" width="3.5" height="3.1" fill="#fff"/>
<rect x="378.1" y="403.8" width="3.5" height="3.1" fill="#fff"/>
<rect x="382.8" y="403.8" width="3.5" height="3.1" fill="#fff"/>
<rect x="387.5" y="403.8" width="3.5" height="3.1" fill="#fff"/>
<rect x="392.2" y="403.8" width="3.5" height="3.1" fill="#fff"/>
<rect x="396.9" y="403.8" width="3.5" height="3.1" fill="#fff"/>
<rect x="401.6" y="403.8" width="3.5" height="3.1" fill="#fff"/>
<rect x="406.3" y="403.8" width="3.5" height="3.1" fill="#fff"/>
<rect x="411" y="405.8" width="3.5" height="3.1" fill="#fff"/>
<rect x="415.7" y="405.8" width="2.9" height="3.1" fill="#fff"/>
<rect x="421" y="404" width="6.64" height="2.9" fill="#fff"/>
<rect x="428.44" y="404" width="5.23" height="2.9" fill="#fff"/>
<rect x="434.47" y="404" width="6.86" height="2.9" fill="#fff"/>
<rect x="442.13" y="404" width="3.79" height="2.9" fill="#fff"/>
<rect x="446.72" y="404" width="2.18" height="2.9" fill="#fff"/>
<rect x="450" y="406" width="5" height="2.9" fill="#fff"/>
<rect x="457.7" y="403.2" width="1.1" height="2.9" fill="#fff"/>
<rect x="464" y="403.8" width="3.5" height="3.1" fill="#fff"/>
<rect x="468.7" y="403.8" width="3.5" height="3.1" fill="#fff"/>
<rect x="473.4" y="403.8" width="3.5" height="3.1" fill="#fff"/>
<rect x="478.1" y="403.8" width="3.5" height="3.1" fill="#fff"/>
<rect x="482.8" y="403.8" width="3.5" height="3.1" fill="#fff"/>
<rect x="487.5" y="403.8" width="3.5" height="3.1" fill="#fff"/>
<rect x="492.2" y="403.8" width="3.5" height="3.1" fill="#fff"/>
<rect x="496.9" y="403.8" width="3.5" height="3.1" fill="#fff"/>
<rect x="501.6" y="403.8" width="2.8" height="3.1" fill="#fff"/>
<rect x="509.4" y="405.8" width="3.5" height="3.1" fill="#fff"/>
<rect x="514.1" y="405.8" width="2.9" height="3.1" fill="#fff"/>
<rect x="518.3" y="403.2" width="5.72" height="2.9" fill="#fff"/>
<rect x="524.82" y="403.2" width="4" height="2.9" fill="#fff"/>
<rect x="529.62" y="403.2" width="5.08" height="2.9" fill="#fff"/>
<rect x="536" y="400.7" width="2.5" height="2.9" fill="#fff"/>
<rect x="540" y="399.7" width="3.5" height="2.9" fill="#fff"/>
<rect x="551" y="403.2" width="1.2" height="2.9" fill="#fff"/>
<rect x="553.5" y="402.2" width="1.4" height="2.9" fill="#fff"/>
<rect x="561" y="403.8" width="3.5" height="3.1" fill="#fff"/>
<rect x="565.7" y="403.8" width="3.5" height="3.1" fill="#fff"/>
<rect x="570.4" y="403.8" width="3.5" height="3.1" fill="#fff"/>
<rect x="575.1" y="403.8" width="3.5" height="3.1" fill="#fff"/>
<rect x="579.8" y="403.8" width="3.5" height="3.1" fill="#fff"/>
<rect x="584.5" y="403.8" width="3.5" height="3.1" fill="#fff"/>
<rect x="589.2" y="403.8" width="3.5" height="3.1" fill="#fff"/>
<rect x="593.9" y="403.8" width="3.5" height="3.1" fill="#fff"/>
<rect x="598.6" y="403.8" width="1.4" height="3.1" fill="#fff"/>
<rect x="600" y="404" width="5" height="2.9" fill="#fff"/>
<rect x="607.6" y="406" width="3.71" height="2.9" fill="#fff"/>
<rect x="612.11" y="406" width="2.89" height="2.9" fill="#fff"/>
<rect x="616.4" y="403.2" width="5.93" height="2.9" fill="#fff"/>
<rect x="623.13" y="403.2" width="4.67" height="2.9" fill="#fff"/>
<rect x="632.8" y="403.2" width="2.2" height="2.9" fill="#fff"/>
<rect x="636.5" y="403.2" width="2.5" height="2.9" fill="#fff"/>
<rect x="644" y="404.2" width="4" height="2.9" fill="#fff"/>
<rect x="649" y="405.7" width="5" height="2.9" fill="#fff"/>
<rect x="659.3" y="403.7" width="2.7" height="2.9" fill="#fff"/>
<rect x="663.5" y="405.5" width="3.5" height="3.1" fill="#fff"/>
<rect x="668.2" y="405.5" width="2.5" height="3.1" fill="#fff"/>
<rect x="675.7" y="405" width="3.5" height="3.1" fill="#fff"/>
<rect x="680.4" y="405" width="3.5" height="3.1" fill="#fff"/>
<rect x="685.1" y="405" width="3.5" height="3.1" fill="#fff"/>
<rect x="690.8" y="402.2" width="4.71" height="2.9" fill="#fff"/>
<rect x="696.31" y="402.2" width="3.93" height="2.9" fill="#fff"/>
<rect x="701.03" y="401.6" width="5.13" height="2.9" fill="#fff"/>
<rect x="706.96" y="402.2" width="2.84" height="2.9" fill="#fff"/>
<rect x="714.8" y="405" width="3.5" height="3.1" fill="#fff"/>
<rect x="719.5" y="405" width="3.5" height="3.1" fill="#fff"/>
<rect x="724.2" y="405" width="3.5" height="3.1" fill="#fff"/>
<rect x="728.9" y="405" width="3.5" height="3.1" fill="#fff"/>
<rect x="733.6" y="405" width="3.5" height="3.1" fill="#fff"/>
<rect x="740" y="402.5" width="3.59" height="2.9" fill="#fff"/>
<rect x="744.39" y="401.9" width="3.81" height="2.9" fill="#fff"/>
<rect x="749" y="402.5" width="2.4" height="2.9" fill="#fff"/>
<rect x="751.4" y="403.8" width="3.5" height="3.1" fill="#fff"/>
<rect x="756.1" y="403.8" width="3.5" height="3.1" fill="#fff"/>
<rect x="760.8" y="403.8" width="3.5" height="3.1" fill="#fff"/>
<rect x="765.5" y="403.8" width="3.5" height="3.1" fill="#fff"/>
<rect x="770.2" y="403.8" width="3.5" height="3.1" fill="#fff"/>
<rect x="774.9" y="403.8" width="3.5" height="3.1" fill="#fff"/>
<rect x="779.6" y="403.8" width="3.5" height="3.1" fill="#fff"/>
<rect x="784.3" y="403.8" width="3.5" height="3.1" fill="#fff"/>
<rect x="789" y="403.8" width="3.5" height="3.1" fill="#fff"/>
<rect x="793.7" y="403.8" width="3.5" height="3.1" fill="#fff"/>
<rect x="798.4" y="403.8" width="3.5" height="3.1" fill="#fff"/>
<rect x="804.4" y="405.8" width="3.5" height="3.1" fill="#fff"/>
<rect x="809.1" y="405.8" width="2.9" height="3.1" fill="#fff"/>
<rect x="813.2" y="403.2" width="5.66" height="2.9" fill="#fff"/>
<rect x="819.66" y="403.2" width="6.12" height="2.9" fill="#fff"/>
<rect x="826.58" y="403.2" width="3.02" height="2.9" fill="#fff"/>
<rect x="830.9" y="401.2" width="6.3" height="2.9" fill="#fff"/>
<rect x="837.2" y="402.2" width="6.36" height="2.9" fill="#fff"/>
<rect x="844.36" y="402.2" width="1.64" height="2.9" fill="#fff"/>
<rect x="849.8" y="403.2" width="1.2" height="2.9" fill="#fff"/>
<rect x="856" y="403.8" width="3.5" height="3.1" fill="#fff"/>
<rect x="860.7" y="403.8" width="3.5" height="3.1" fill="#fff"/>
<rect x="865.4" y="403.8" width="3.5" height="3.1" fill="#fff"/>
<rect x="870.1" y="403.8" width="3.5" height="3.1" fill="#fff"/>
<rect x="874.8" y="403.8" width="3.5" height="3.1" fill="#fff"/>
<rect x="879.5" y="403.8" width="3.5" height="3.1" fill="#fff"/>
<rect x="884.2" y="403.8" width="3.5" height="3.1" fill="#fff"/>
<rect x="888.9" y="403.8" width="3.5" height="3.1" fill="#fff"/>
<rect x="893.6" y="403.8" width="3.5" height="3.1" fill="#fff"/>
<rect x="902.6" y="405.8" width="3.5" height="3.1" fill="#fff"/>
<rect x="907.3" y="405.8" width="2.7" height="3.1" fill="#fff"/>
<rect x="911.4" y="402.6" width="7.08" height="2.9" fill="#fff"/>
<rect x="919.28" y="403.2" width="3.42" height="2.9" fill="#fff"/>
<rect x="926.5" y="403" width="3.5" height="3.1" fill="#fff"/>
<rect x="931.2" y="403" width="3.5" height="3.1" fill="#fff"/>
<rect x="939" y="403.2" width="1.2" height="2.9" fill="#fff"/>
<rect x="947.5" y="402.7" width="1.2" height="2.9" fill="#fff"/>
<rect x="954" y="403" width="3.5" height="3.1" fill="#fff"/>
<rect x="960.4" y="405.3" width="3.5" height="3.1" fill="#fff"/>
<rect x="965.1" y="405.3" width="3.5" height="3.1" fill="#fff"/>
<rect x="969.8" y="405.3" width="3.5" height="3.1" fill="#fff"/>
<rect x="974.5" y="405.3" width="3.5" height="3.1" fill="#fff"/>
<rect x="979.2" y="405.3" width="3.5" height="3.1" fill="#fff"/>
<rect x="985.5" y="401.6" width="5.94" height="2.9" fill="#fff"/>
<rect x="992.24" y="402.2" width="5.9" height="2.9" fill="#fff"/>
<rect x="998.94" y="402.2" width="5.46" height="2.9" fill="#fff"/>
<rect x="1009.4" y="405" width="3.5" height="3.1" fill="#fff"/>
<rect x="1014.1" y="405" width="3.5" height="3.1" fill="#fff"/>
<rect x="1018.8" y="405" width="3.5" height="3.1" fill="#fff"/>
<rect x="1023.5" y="405" width="3.5" height="3.1" fill="#fff"/>
<rect x="1028.2" y="405" width="3.5" height="3.1" fill="#fff"/>
<rect x="1034.6" y="399.7" width="4.38" height="2.9" fill="#fff"/>
<rect x="1039.78" y="399.1" width="6.12" height="2.9" fill="#fff"/>
<rect x="1047" y="403.8" width="3.5" height="3.1" fill="#fff"/>
<rect x="1051.7" y="403.8" width="3.5" height="3.1" fill="#fff"/>
<rect x="1056.4" y="403.8" width="3.5" height="3.1" fill="#fff"/>
<rect x="1061.1" y="403.8" width="3.5" height="3.1" fill="#fff"/>
<rect x="1065.8" y="403.8" width="3.5" height="3.1" fill="#fff"/>
<rect x="1070.5" y="403.8" width="3.5" height="3.1" fill="#fff"/>
<rect x="1075.2" y="403.8" width="3.5" height="3.1" fill="#fff"/>
<rect x="1079.9" y="403.8" width="3.5" height="3.1" fill="#fff"/>
<rect x="1084.6" y="403.8" width="3.5" height="3.1" fill="#fff"/>
<rect x="1089.3" y="403.8" width="3.5" height="3.1" fill="#fff"/>
<rect x="1094" y="403.8" width="2.2" height="3.1" fill="#fff"/>
<rect x="1098.7" y="405.8" width="3.5" height="3.1" fill="#fff"/>
<rect x="1103.4" y="405.8" width="1.6" height="3.1" fill="#fff"/>
<rect x="1107.5" y="403.2" width="6.66" height="2.9" fill="#fff"/>
<rect x="1114.96" y="403.2" width="3.84" height="2.9" fill="#fff"/>
<rect x="1123.8" y="403" width="3.5" height="3.1" fill="#fff"/>
<rect x="1128.5" y="403" width="2.9" height="3.1" fill="#fff"/>
<rect x="1132.6" y="405" width="3.5" height="3.1" fill="#fff"/>
<rect x="1137.3" y="405" width="3.5" height="3.1" fill="#fff"/>
<rect x="1142" y="405" width="2" height="3.1" fill="#fff"/>
<rect x="1145" y="401.7" width="2.7" height="2.9" fill="#fff"/>
<path d="M14 374.5H1181M14.5 375V431M1180.5 375V431" stroke="#fff" stroke-opacity="0.33" stroke-width="1" fill="none"/>
<path d="M14 431.5H1181" stroke="#fff" stroke-opacity="0.15" stroke-width="1" fill="none"/>
<text x="38" y="383" fill="#fff" font-weight="bold" font-size="19.4">FrenchHr</text>
</g>
<g>
<rect x="14" y="434" width="1167" height="58" fill="#7f2500"/>
<line x1="219.5" y1="434" x2="219.5" y2="492" stroke="#ad532e" stroke-width="1"/>
<line x1="424.5" y1="434" x2="424.5" y2="492" stroke="#ad532e" stroke-width="1"/>
<line x1="628.5" y1="434" x2="628.5" y2="492" stroke="#ad532e" stroke-width="1"/>
<line x1="833.5" y1="434" x2="833.5" y2="492" stroke="#ad532e" stroke-width="1"/>
<line x1="1038.5" y1="434" x2="1038.5" y2="492" stroke="#ad532e" stroke-width="1"/>
<rect x="42.6" y="459.3" width="1" height="4.2" fill="#fff2ee"/>
<rect x="46" y="460.4" width="21" height="6" fill="#fff2ee"/>
<rect x="50.91" y="460.4" width="0.8" height="6" fill="rgba(127,37,0,0.35)"/>
<rect x="51.47" y="460.4" width="0.8" height="6" fill="rgba(127,37,0,0.35)"/>
<rect x="46" y="463.76" width="21" height="0.7" fill="rgba(127,37,0,0.2)"/>
<rect x="88" y="459.7" width="20.2" height="6.7" fill="#fff2ee"/>
<rect x="94.88" y="459.7" width="0.8" height="6.7" fill="rgba(127,37,0,0.35)"/>
<rect x="100.54" y="459.7" width="0.8" height="6.7" fill="rgba(127,37,0,0.35)"/>
<rect x="88" y="462.77" width="20.2" height="0.7" fill="rgba(127,37,0,0.2)"/>
<rect x="133.4" y="460.4" width="17.6" height="6" fill="#fff2ee"/>
<rect x="136.22" y="460.4" width="0.8" height="6" fill="rgba(127,37,0,0.35)"/>
<rect x="141.21" y="460.4" width="0.8" height="6" fill="rgba(127,37,0,0.35)"/>
<rect x="133.4" y="463.86" width="17.6" height="0.7" fill="rgba(127,37,0,0.2)"/>
<rect x="162" y="460" width="2.2" height="7.7" fill="#fff2ee"/>
<rect x="177.2" y="459.7" width="17.6" height="6.7" fill="#fff2ee"/>
<rect x="187.16" y="459.7" width="0.8" height="6.7" fill="rgba(127,37,0,0.35)"/>
<rect x="190.46" y="459.7" width="0.8" height="6.7" fill="rgba(127,37,0,0.35)"/>
<rect x="177.2" y="463.22" width="17.6" height="0.7" fill="rgba(127,37,0,0.2)"/>
<rect x="220.6" y="460.1" width="17.7" height="6.3" fill="#fff2ee"/>
<rect x="224.81" y="460.1" width="0.8" height="6.3" fill="rgba(127,37,0,0.35)"/>
<rect x="222.94" y="460.1" width="0.8" height="6.3" fill="rgba(127,37,0,0.35)"/>
<rect x="232.84" y="460.1" width="0.8" height="6.3" fill="rgba(127,37,0,0.35)"/>
<rect x="220.6" y="462.33" width="17.7" height="0.7" fill="rgba(127,37,0,0.2)"/>
<rect x="260.3" y="458.4" width="21.2" height="6.7" fill="#fff2ee"/>
<rect x="267.1" y="458.4" width="0.8" height="6.7" fill="rgba(127,37,0,0.35)"/>
<rect x="267.03" y="458.4" width="0.8" height="6.7" fill="rgba(127,37,0,0.35)"/>
<rect x="260.3" y="462.56" width="21.2" height="0.7" fill="rgba(127,37,0,0.2)"/>
<rect x="306.3" y="459.2" width="18.5" height="6.1" fill="#fff2ee"/>
<rect x="314.25" y="459.2" width="0.8" height="6.1" fill="rgba(127,37,0,0.35)"/>
<rect x="312.6" y="459.2" width="0.8" height="6.1" fill="rgba(127,37,0,0.35)"/>
<rect x="306.3" y="461.8" width="18.5" height="0.7" fill="rgba(127,37,0,0.2)"/>
<rect x="348.6" y="460.1" width="11.4" height="6.3" fill="#fff2ee"/>
<rect x="354.6" y="460.1" width="0.8" height="6.3" fill="rgba(127,37,0,0.35)"/>
<rect x="355.6" y="460.1" width="0.8" height="6.3" fill="rgba(127,37,0,0.35)"/>
<rect x="354.54" y="460.1" width="0.8" height="6.3" fill="rgba(127,37,0,0.35)"/>
<rect x="348.6" y="462.86" width="11.4" height="0.7" fill="rgba(127,37,0,0.2)"/>
<rect x="394.6" y="460.1" width="18.5" height="5.4" fill="#fff2ee"/>
<rect x="398.36" y="460.1" width="0.8" height="5.4" fill="rgba(127,37,0,0.35)"/>
<rect x="394.6" y="462.15" width="18.5" height="0.7" fill="rgba(127,37,0,0.2)"/>
<rect x="434.7" y="458.8" width="1.8" height="6.2" fill="#fff2ee"/>
<rect x="439.1" y="458.4" width="22.1" height="6.4" fill="#fff2ee"/>
<rect x="449.37" y="458.4" width="0.8" height="6.4" fill="rgba(127,37,0,0.35)"/>
<rect x="450.32" y="458.4" width="0.8" height="6.4" fill="rgba(127,37,0,0.35)"/>
<rect x="439.1" y="460.56" width="22.1" height="0.7" fill="rgba(127,37,0,0.2)"/>
<rect x="480.6" y="460.1" width="19.4" height="6.3" fill="#fff2ee"/>
<rect x="496.98" y="460.1" width="0.8" height="6.3" fill="rgba(127,37,0,0.35)"/>
<rect x="488.69" y="460.1" width="0.8" height="6.3" fill="rgba(127,37,0,0.35)"/>
<rect x="480.6" y="462.29" width="19.4" height="0.7" fill="rgba(127,37,0,0.2)"/>
<rect x="524" y="461" width="19.3" height="5.4" fill="#fff2ee"/>
<rect x="536.21" y="461" width="0.8" height="5.4" fill="rgba(127,37,0,0.35)"/>
<rect x="531.63" y="461" width="0.8" height="5.4" fill="rgba(127,37,0,0.35)"/>
<rect x="524" y="463.1" width="19.3" height="0.7" fill="rgba(127,37,0,0.2)"/>
<rect x="554.8" y="460.6" width="2.2" height="7.1" fill="#fff2ee"/>
<rect x="567.2" y="460.1" width="19.4" height="6.3" fill="#fff2ee"/>
<rect x="578.08" y="460.1" width="0.8" height="6.3" fill="rgba(127,37,0,0.35)"/>
<rect x="569.65" y="460.1" width="0.8" height="6.3" fill="rgba(127,37,0,0.35)"/>
<rect x="567.2" y="462.98" width="19.4" height="0.7" fill="rgba(127,37,0,0.2)"/>
<rect x="610.6" y="460.1" width="18.5" height="6.3" fill="#fff2ee"/>
<rect x="624.65" y="460.1" width="0.8" height="6.3" fill="rgba(127,37,0,0.35)"/>
<rect x="615.23" y="460.1" width="0.8" height="6.3" fill="rgba(127,37,0,0.35)"/>
<rect x="610.6" y="462.23" width="18.5" height="0.7" fill="rgba(127,37,0,0.2)"/>
<rect x="653" y="458.4" width="21.2" height="6.4" fill="#fff2ee"/>
<rect x="656.66" y="458.4" width="0.8" height="6.4" fill="rgba(127,37,0,0.35)"/>
<rect x="666.12" y="458.4" width="0.8" height="6.4" fill="rgba(127,37,0,0.35)"/>
<rect x="653" y="461.63" width="21.2" height="0.7" fill="rgba(127,37,0,0.2)"/>
<rect x="698.9" y="459.2" width="17.7" height="6.3" fill="#fff2ee"/>
<rect x="713.27" y="459.2" width="0.8" height="6.3" fill="rgba(127,37,0,0.35)"/>
<rect x="701.28" y="459.2" width="0.8" height="6.3" fill="rgba(127,37,0,0.35)"/>
<rect x="711.79" y="459.2" width="0.8" height="6.3" fill="rgba(127,37,0,0.35)"/>
<rect x="698.9" y="462.53" width="17.7" height="0.7" fill="rgba(127,37,0,0.2)"/>
<rect x="742.2" y="460.1" width="10.6" height="6.3" fill="#fff2ee"/>
<rect x="746.29" y="460.1" width="0.8" height="6.3" fill="rgba(127,37,0,0.35)"/>
<rect x="749.31" y="460.1" width="0.8" height="6.3" fill="rgba(127,37,0,0.35)"/>
<rect x="745.08" y="460.1" width="0.8" height="6.3" fill="rgba(127,37,0,0.35)"/>
<rect x="742.2" y="463.47" width="10.6" height="0.7" fill="rgba(127,37,0,0.2)"/>
<rect x="781.9" y="460.1" width="22.1" height="5.4" fill="#fff2ee"/>
<rect x="791.86" y="460.1" width="0.8" height="5.4" fill="rgba(127,37,0,0.35)"/>
<rect x="791.6" y="460.1" width="0.8" height="5.4" fill="rgba(127,37,0,0.35)"/>
<rect x="798.8" y="460.1" width="0.8" height="5.4" fill="rgba(127,37,0,0.35)"/>
<rect x="781.9" y="462.74" width="22.1" height="0.7" fill="rgba(127,37,0,0.2)"/>
<rect x="828.3" y="460.1" width="20.3" height="6.3" fill="#fff2ee"/>
<rect x="832.19" y="460.1" width="0.8" height="6.3" fill="rgba(127,37,0,0.35)"/>
<rect x="828.3" y="462.14" width="20.3" height="0.7" fill="rgba(127,37,0,0.2)"/>
<rect x="850.3" y="459.7" width="1.8" height="5.3" fill="#fff2ee"/>
<rect x="869.8" y="460.1" width="21.2" height="6.3" fill="#fff2ee"/>
<rect x="875.66" y="460.1" width="0.8" height="6.3" fill="rgba(127,37,0,0.35)"/>
<rect x="875.16" y="460.1" width="0.8" height="6.3" fill="rgba(127,37,0,0.35)"/>
<rect x="869.8" y="463.61" width="21.2" height="0.7" fill="rgba(127,37,0,0.2)"/>
<rect x="917.4" y="461" width="17.7" height="5.4" fill="#fff2ee"/>
<rect x="925.17" y="461" width="0.8" height="5.4" fill="rgba(127,37,0,0.35)"/>
<rect x="923.46" y="461" width="0.8" height="5.4" fill="rgba(127,37,0,0.35)"/>
<rect x="920.39" y="461" width="0.8" height="5.4" fill="rgba(127,37,0,0.35)"/>
<rect x="917.4" y="463.78" width="17.7" height="0.7" fill="rgba(127,37,0,0.2)"/>
<rect x="948.4" y="458.4" width="29.1" height="6.4" fill="#fff2ee"/>
<rect x="952.97" y="458.4" width="0.8" height="6.4" fill="rgba(127,37,0,0.35)"/>
<rect x="948.4" y="461.16" width="29.1" height="0.7" fill="rgba(127,37,0,0.2)"/>
<rect x="1005.9" y="458.8" width="15.9" height="6.7" fill="#fff2ee"/>
<rect x="1011.35" y="458.8" width="0.8" height="6.7" fill="rgba(127,37,0,0.35)"/>
<rect x="1005.9" y="462.82" width="15.9" height="0.7" fill="rgba(127,37,0,0.2)"/>
<rect x="1046" y="459.2" width="1.7" height="7.6" fill="#fff2ee"/>
<rect x="1061.1" y="459.2" width="3.4" height="7.6" fill="#fff2ee"/>
<rect x="1092" y="459.6" width="16.8" height="5.9" fill="#fff2ee"/>
<rect x="1100.98" y="459.6" width="0.8" height="5.9" fill="rgba(127,37,0,0.35)"/>
<rect x="1092" y="461.73" width="16.8" height="0.7" fill="rgba(127,37,0,0.2)"/>
<rect x="1134.8" y="458.2" width="8.6" height="6.9" fill="#fff2ee"/>
<rect x="1139.13" y="458.2" width="0.8" height="6.9" fill="rgba(127,37,0,0.35)"/>
<rect x="1137.31" y="458.2" width="0.8" height="6.9" fill="rgba(127,37,0,0.35)"/>
<rect x="1137.19" y="458.2" width="0.8" height="6.9" fill="rgba(127,37,0,0.35)"/>
<rect x="1134.8" y="460.61" width="8.6" height="0.7" fill="rgba(127,37,0,0.2)"/>
<rect x="1144" y="455" width="2.5" height="12.6" fill="#fff2ee"/>
<rect x="1149.8" y="462.1" width="18.4" height="7.6" fill="#fff2ee"/>
<rect x="1157.49" y="462.1" width="0.8" height="7.6" fill="rgba(127,37,0,0.35)"/>
<rect x="1149.8" y="465.45" width="18.4" height="0.7" fill="rgba(127,37,0,0.2)"/>
<rect x="1149.8" y="473" width="18.4" height="2.6" fill="#fff2ee"/>
<rect x="1158.05" y="473" width="0.8" height="2.6" fill="rgba(127,37,0,0.35)"/>
<rect x="1164.27" y="473" width="0.8" height="2.6" fill="rgba(127,37,0,0.35)"/>
<rect x="1149.8" y="473.9" width="18.4" height="0.7" fill="rgba(127,37,0,0.2)"/>
<rect x="1149.8" y="478" width="18.4" height="2.6" fill="#fff2ee"/>
<rect x="1164.81" y="478" width="0.8" height="2.6" fill="rgba(127,37,0,0.35)"/>
<rect x="1162.31" y="478" width="0.8" height="2.6" fill="rgba(127,37,0,0.35)"/>
<rect x="1161.91" y="478" width="0.8" height="2.6" fill="rgba(127,37,0,0.35)"/>
<rect x="1149.8" y="478.47" width="18.4" height="0.7" fill="rgba(127,37,0,0.2)"/>
<path d="M14 434.5H1181M14.5 435V491M1180.5 435V491" stroke="#fff" stroke-opacity="0.33" stroke-width="1" fill="none"/>
<path d="M14 491.5H1181" stroke="#fff" stroke-opacity="0.15" stroke-width="1" fill="none"/>
<text x="38" y="443" fill="#fff" font-weight="bold" font-size="19.4">BritePno</text>
</g>
<g>
<rect x="14" y="494" width="1167" height="58" fill="#00557f"/>
<line x1="219.5" y1="494" x2="219.5" y2="552" stroke="#2e83ad" stroke-width="1"/>
<line x1="424.5" y1="494" x2="424.5" y2="552" stroke="#2e83ad" stroke-width="1"/>
<line x1="628.5" y1="494" x2="628.5" y2="552" stroke="#2e83ad" stroke-width="1"/>
<line x1="833.5" y1="494" x2="833.5" y2="552" stroke="#2e83ad" stroke-width="1"/>
<line x1="1038.5" y1="494" x2="1038.5" y2="552" stroke="#2e83ad" stroke-width="1"/>
<rect x="16.5" y="532.1" width="1.5" height="3.7" fill="#fff"/>
<rect x="30.8" y="532.1" width="1.5" height="3.7" fill="#fff"/>
<rect x="35.9" y="532.1" width="1.5" height="3.7" fill="#fff"/>
<rect x="79.6" y="532.1" width="1.5" height="3.7" fill="#fff"/>
<rect x="111.6" y="532.1" width="1.5" height="3.7" fill="#fff"/>
<rect x="115.8" y="532.1" width="1.5" height="3.7" fill="#fff"/>
<rect x="123.3" y="532.1" width="1.5" height="3.7" fill="#fff"/>
<rect x="162.9" y="532.1" width="1.5" height="3.7" fill="#fff"/>
<rect x="203.2" y="532.1" width="1.5" height="3.7" fill="#fff"/>
<rect x="209" y="532.1" width="1.5" height="3.7" fill="#fff"/>
<rect x="215.5" y="532.1" width="1.5" height="3.7" fill="#fff"/>
<rect x="219" y="532.1" width="1.5" height="3.7" fill="#fff"/>
<rect x="205.5" y="532.1" width="1.5" height="3.7" fill="#fff"/>
<rect x="418.5" y="532.1" width="1.5" height="3.7" fill="#fff"/>
<rect x="423.5" y="532.1" width="1.5" height="3.7" fill="#fff"/>
<rect x="429.4" y="532.1" width="1.5" height="3.7" fill="#fff"/>
<rect x="472.3" y="532.1" width="1.5" height="3.7" fill="#fff"/>
<rect x="503.4" y="532.1" width="1.5" height="3.7" fill="#fff"/>
<rect x="509.3" y="532.1" width="1.5" height="3.7" fill="#fff"/>
<rect x="516" y="532.1" width="1.5" height="3.7" fill="#fff"/>
<rect x="555.6" y="532.1" width="1.5" height="3.7" fill="#fff"/>
<rect x="590" y="532.1" width="1.5" height="3.7" fill="#fff"/>
<rect x="596" y="532.1" width="1.5" height="3.7" fill="#fff"/>
<rect x="601.7" y="532.1" width="1.5" height="3.7" fill="#fff"/>
<rect x="606.7" y="532.1" width="1.5" height="3.7" fill="#fff"/>
<rect x="638.7" y="532.1" width="1.5" height="3.7" fill="#fff"/>
<rect x="767.4" y="532.1" width="1.5" height="3.7" fill="#fff"/>
<rect x="773.3" y="532.1" width="1.5" height="3.7" fill="#fff"/>
<rect x="779.1" y="532.1" width="1.5" height="3.7" fill="#fff"/>
<rect x="811" y="532.1" width="1.5" height="3.7" fill="#fff"/>
<rect x="816.8" y="532.1" width="1.5" height="3.7" fill="#fff"/>
<rect x="822.7" y="532.1" width="1.5" height="3.7" fill="#fff"/>
<rect x="865.6" y="532.1" width="1.5" height="3.7" fill="#fff"/>
<rect x="898.4" y="532.1" width="1.5" height="3.7" fill="#fff"/>
<rect x="903.4" y="532.1" width="1.5" height="3.7" fill="#fff"/>
<rect x="909.3" y="532.1" width="1.5" height="3.7" fill="#fff"/>
<rect x="952.2" y="532.1" width="1.5" height="3.7" fill="#fff"/>
<rect x="989.2" y="532.1" width="1.5" height="3.7" fill="#fff"/>
<rect x="995.1" y="532.1" width="1.5" height="3.7" fill="#fff"/>
<rect x="1070.6" y="532.1" width="1.5" height="3.7" fill="#fff"/>
<rect x="1076.5" y="532.1" width="1.5" height="3.7" fill="#fff"/>
<rect x="1081.5" y="532.1" width="1.5" height="3.7" fill="#fff"/>
<rect x="1112.6" y="532.1" width="1.5" height="3.7" fill="#fff"/>
<rect x="1117.7" y="532.1" width="1.5" height="3.7" fill="#fff"/>
<rect x="1123.6" y="532.1" width="1.5" height="3.7" fill="#fff"/>
<rect x="40" y="527" width="1.4" height="3.1" fill="#fff"/>
<rect x="52.7" y="527" width="1.4" height="3.1" fill="#fff"/>
<rect x="64.5" y="527" width="1.4" height="3.1" fill="#fff"/>
<rect x="77" y="527" width="1.4" height="3.1" fill="#fff"/>
<rect x="175.5" y="527" width="1.4" height="3.1" fill="#fff"/>
<rect x="371.6" y="527" width="1.4" height="3.1" fill="#fff"/>
<rect x="469.8" y="527" width="1.4" height="3.1" fill="#fff"/>
<rect x="568.2" y="527" width="1.4" height="3.1" fill="#fff"/>
<rect x="715.2" y="527" width="1.4" height="3.1" fill="#fff"/>
<rect x="727.8" y="527" width="1.4" height="3.1" fill="#fff"/>
<rect x="733.7" y="527" width="1.4" height="3.1" fill="#fff"/>
<rect x="764.8" y="527" width="1.4" height="3.1" fill="#fff"/>
<rect x="863" y="527" width="1.4" height="3.1" fill="#fff"/>
<rect x="1028.5" y="527" width="1.4" height="3.1" fill="#fff"/>
<rect x="1034.4" y="527" width="1.4" height="3.1" fill="#fff"/>
<rect x="1039.5" y="527" width="1.4" height="3.1" fill="#fff"/>
<rect x="1044.5" y="527" width="1.4" height="3.1" fill="#fff"/>
<rect x="1058.8" y="527" width="1.4" height="3.1" fill="#fff"/>
<rect x="42.6" y="531.2" width="22.7" height="1.4" fill="#fff"/>
<rect x="42.6" y="532.6" width="1.5" height="4.3" fill="#fff"/>
<rect x="45.7" y="532.6" width="1.5" height="4.3" fill="#fff"/>
<rect x="48.2" y="532.6" width="1.5" height="4.3" fill="#fff"/>
<rect x="51.3" y="532.6" width="1.8" height="4.3" fill="#fff"/>
<rect x="54.4" y="532.6" width="2.4" height="4.3" fill="#fff"/>
<rect x="58.4" y="532.6" width="1.8" height="4.3" fill="#fff"/>
<rect x="61.8" y="532.6" width="1.8" height="4.3" fill="#fff"/>
<rect x="64.9" y="532.6" width="0.4" height="4.3" fill="#fff"/>
<rect x="63.46" y="528.8" width="1.3" height="2.4" fill="#fff"/>
<rect x="60.67" y="528.8" width="1.3" height="2.4" fill="#fff"/>
<rect x="43.2" y="528.8" width="1.3" height="2.4" fill="#fff"/>
<rect x="85.5" y="531.2" width="21.9" height="1.4" fill="#fff"/>
<rect x="85.5" y="532.6" width="1.8" height="4.3" fill="#fff"/>
<rect x="88.3" y="532.6" width="2.4" height="4.3" fill="#fff"/>
<rect x="92.3" y="532.6" width="1.5" height="4.3" fill="#fff"/>
<rect x="95.1" y="532.6" width="1.8" height="4.3" fill="#fff"/>
<rect x="98.2" y="532.6" width="2.4" height="4.3" fill="#fff"/>
<rect x="102.2" y="532.6" width="1.5" height="4.3" fill="#fff"/>
<rect x="104.7" y="532.6" width="2.4" height="4.3" fill="#fff"/>
<rect x="85.76" y="528.8" width="1.3" height="2.4" fill="#fff"/>
<rect x="86.74" y="528.8" width="1.3" height="2.4" fill="#fff"/>
<rect x="130" y="531.2" width="22" height="1.4" fill="#fff"/>
<rect x="130" y="532.6" width="1.2" height="4.3" fill="#fff"/>
<rect x="132.8" y="532.6" width="1.2" height="4.3" fill="#fff"/>
<rect x="135" y="532.6" width="2.4" height="4.3" fill="#fff"/>
<rect x="138.4" y="532.6" width="2.4" height="4.3" fill="#fff"/>
<rect x="142.1" y="532.6" width="1.5" height="4.3" fill="#fff"/>
<rect x="144.9" y="532.6" width="1.2" height="4.3" fill="#fff"/>
<rect x="147.4" y="532.6" width="1.5" height="4.3" fill="#fff"/>
<rect x="150.5" y="532.6" width="1.5" height="4.3" fill="#fff"/>
<rect x="132.41" y="528.8" width="1.3" height="2.4" fill="#fff"/>
<rect x="145.64" y="528.8" width="1.3" height="2.4" fill="#fff"/>
<rect x="174.6" y="531.2" width="21.1" height="1.4" fill="#fff"/>
<rect x="174.6" y="532.6" width="1.2" height="4.3" fill="#fff"/>
<rect x="177.1" y="532.6" width="1.2" height="4.3" fill="#fff"/>
<rect x="179.6" y="532.6" width="1.2" height="4.3" fill="#fff"/>
<rect x="182.4" y="532.6" width="1.8" height="4.3" fill="#fff"/>
<rect x="185.8" y="532.6" width="2.4" height="4.3" fill="#fff"/>
<rect x="189.8" y="532.6" width="1.2" height="4.3" fill="#fff"/>
<rect x="192.3" y="532.6" width="2.4" height="4.3" fill="#fff"/>
<rect x="191.83" y="528.8" width="1.3" height="2.4" fill="#fff"/>
<rect x="216.8" y="531.2" width="23.6" height="1.4" fill="#fff"/>
<rect x="216.8" y="532.6" width="2.4" height="4.3" fill="#fff"/>
<rect x="220.8" y="532.6" width="1.8" height="4.3" fill="#fff"/>
<rect x="223.6" y="532.6" width="2.4" height="4.3" fill="#fff"/>
<rect x="227.6" y="532.6" width="2.4" height="4.3" fill="#fff"/>
<rect x="231" y="532.6" width="1.2" height="4.3" fill="#fff"/>
<rect x="233.5" y="532.6" width="2.4" height="4.3" fill="#fff"/>
<rect x="237.2" y="532.6" width="2.4" height="4.3" fill="#fff"/>
<rect x="224.59" y="528.8" width="1.3" height="2.4" fill="#fff"/>
<rect x="232.59" y="528.8" width="1.3" height="2.4" fill="#fff"/>
<rect x="222.39" y="528.8" width="1.3" height="2.4" fill="#fff"/>
<rect x="261.4" y="531.2" width="21" height="1.4" fill="#fff"/>
<rect x="261.4" y="532.6" width="1.5" height="4.3" fill="#fff"/>
<rect x="264.5" y="532.6" width="2.4" height="4.3" fill="#fff"/>
<rect x="267.9" y="532.6" width="1.2" height="4.3" fill="#fff"/>
<rect x="270.4" y="532.6" width="2.4" height="4.3" fill="#fff"/>
<rect x="274.4" y="532.6" width="1.2" height="4.3" fill="#fff"/>
<rect x="277.2" y="532.6" width="1.5" height="4.3" fill="#fff"/>
<rect x="280.3" y="532.6" width="2.1" height="4.3" fill="#fff"/>
<rect x="272.27" y="528.8" width="1.3" height="2.4" fill="#fff"/>
<rect x="304.3" y="531.2" width="21.9" height="1.4" fill="#fff"/>
<rect x="304.3" y="532.6" width="1.8" height="4.3" fill="#fff"/>
<rect x="307.7" y="532.6" width="2.4" height="4.3" fill="#fff"/>
<rect x="311.7" y="532.6" width="2.4" height="4.3" fill="#fff"/>
<rect x="315.4" y="532.6" width="2.4" height="4.3" fill="#fff"/>
<rect x="318.8" y="532.6" width="1.8" height="4.3" fill="#fff"/>
<rect x="321.6" y="532.6" width="2.4" height="4.3" fill="#fff"/>
<rect x="325.3" y="532.6" width="0.9" height="4.3" fill="#fff"/>
<rect x="312.49" y="528.8" width="1.3" height="2.4" fill="#fff"/>
<rect x="324.4" y="528.8" width="1.3" height="2.4" fill="#fff"/>
<rect x="348" y="531.2" width="11.8" height="1.4" fill="#fff"/>
<rect x="348" y="532.6" width="1.8" height="4.3" fill="#fff"/>
<rect x="351.4" y="532.6" width="2.4" height="4.3" fill="#fff"/>
<rect x="355.1" y="532.6" width="1.8" height="4.3" fill="#fff"/>
<rect x="358.2" y="532.6" width="1.2" height="4.3" fill="#fff"/>
<rect x="352.04" y="528.8" width="1.3" height="2.4" fill="#fff"/>
<rect x="391.7" y="531.2" width="21.8" height="1.4" fill="#fff"/>
<rect x="391.7" y="532.6" width="1.5" height="4.3" fill="#fff"/>
<rect x="394.5" y="532.6" width="1.8" height="4.3" fill="#fff"/>
<rect x="397.3" y="532.6" width="2.4" height="4.3" fill="#fff"/>
<rect x="401.3" y="532.6" width="1.8" height="4.3" fill="#fff"/>
<rect x="404.1" y="532.6" width="1.8" height="4.3" fill="#fff"/>
<rect x="406.9" y="532.6" width="1.8" height="4.3" fill="#fff"/>
<rect x="409.7" y="532.6" width="1.8" height="4.3" fill="#fff"/>
<rect x="412.8" y="532.6" width="0.7" height="4.3" fill="#fff"/>
<rect x="406.49" y="528.8" width="1.3" height="2.4" fill="#fff"/>
<rect x="409.55" y="528.8" width="1.3" height="2.4" fill="#fff"/>
<rect x="435.3" y="531.2" width="23.6" height="1.4" fill="#fff"/>
<rect x="435.3" y="532.6" width="1.5" height="4.3" fill="#fff"/>
<rect x="438.1" y="532.6" width="1.8" height="4.3" fill="#fff"/>
<rect x="440.9" y="532.6" width="2.4" height="4.3" fill="#fff"/>
<rect x="444.9" y="532.6" width="1.2" height="4.3" fill="#fff"/>
<rect x="447.1" y="532.6" width="2.4" height="4.3" fill="#fff"/>
<rect x="450.5" y="532.6" width="1.2" height="4.3" fill="#fff"/>
<rect x="453.3" y="532.6" width="1.2" height="4.3" fill="#fff"/>
<rect x="456.1" y="532.6" width="1.5" height="4.3" fill="#fff"/>
<rect x="449.36" y="528.8" width="1.3" height="2.4" fill="#fff"/>
<rect x="438.72" y="528.8" width="1.3" height="2.4" fill="#fff"/>
<rect x="478.2" y="531.2" width="22.8" height="1.4" fill="#fff"/>
<rect x="478.2" y="532.6" width="2.4" height="4.3" fill="#fff"/>
<rect x="481.9" y="532.6" width="1.5" height="4.3" fill="#fff"/>
<rect x="484.7" y="532.6" width="1.2" height="4.3" fill="#fff"/>
<rect x="487.2" y="532.6" width="2.4" height="4.3" fill="#fff"/>
<rect x="490.9" y="532.6" width="1.2" height="4.3" fill="#fff"/>
<rect x="493.7" y="532.6" width="1.2" height="4.3" fill="#fff"/>
<rect x="495.9" y="532.6" width="1.8" height="4.3" fill="#fff"/>
<rect x="499.3" y="532.6" width="1.2" height="4.3" fill="#fff"/>
<rect x="496.42" y="528.8" width="1.3" height="2.4" fill="#fff"/>
<rect x="521" y="531.2" width="22.8" height="1.4" fill="#fff"/>
<rect x="521" y="532.6" width="1.2" height="4.3" fill="#fff"/>
<rect x="523.8" y="532.6" width="1.5" height="4.3" fill="#fff"/>
<rect x="526.6" y="532.6" width="1.8" height="4.3" fill="#fff"/>
<rect x="529.4" y="532.6" width="2.4" height="4.3" fill="#fff"/>
<rect x="532.8" y="532.6" width="1.2" height="4.3" fill="#fff"/>
<rect x="535.6" y="532.6" width="1.2" height="4.3" fill="#fff"/>
<rect x="538.1" y="532.6" width="1.5" height="4.3" fill="#fff"/>
<rect x="540.6" y="532.6" width="2.4" height="4.3" fill="#fff"/>
<rect x="525.78" y="528.8" width="1.3" height="2.4" fill="#fff"/>
<rect x="524.42" y="528.8" width="1.3" height="2.4" fill="#fff"/>
<rect x="538.37" y="528.8" width="1.3" height="2.4" fill="#fff"/>
<rect x="567.4" y="531.2" width="20.2" height="1.4" fill="#fff"/>
<rect x="567.4" y="532.6" width="1.2" height="4.3" fill="#fff"/>
<rect x="569.9" y="532.6" width="2.4" height="4.3" fill="#fff"/>
<rect x="573.9" y="532.6" width="1.2" height="4.3" fill="#fff"/>
<rect x="576.1" y="532.6" width="1.5" height="4.3" fill="#fff"/>
<rect x="578.6" y="532.6" width="1.8" height="4.3" fill="#fff"/>
<rect x="581.7" y="532.6" width="1.8" height="4.3" fill="#fff"/>
<rect x="584.5" y="532.6" width="1.5" height="4.3" fill="#fff"/>
<rect x="573.07" y="528.8" width="1.3" height="2.4" fill="#fff"/>
<rect x="569.9" y="528.8" width="1.3" height="2.4" fill="#fff"/>
<rect x="570.87" y="528.8" width="1.3" height="2.4" fill="#fff"/>
<rect x="609.3" y="531.2" width="23.5" height="1.4" fill="#fff"/>
<rect x="609.3" y="532.6" width="2.4" height="4.3" fill="#fff"/>
<rect x="613.3" y="532.6" width="1.8" height="4.3" fill="#fff"/>
<rect x="616.1" y="532.6" width="1.2" height="4.3" fill="#fff"/>
<rect x="618.9" y="532.6" width="2.4" height="4.3" fill="#fff"/>
<rect x="622.6" y="532.6" width="1.2" height="4.3" fill="#fff"/>
<rect x="625.4" y="532.6" width="2.4" height="4.3" fill="#fff"/>
<rect x="629.1" y="532.6" width="1.2" height="4.3" fill="#fff"/>
<rect x="631.6" y="532.6" width="1.2" height="4.3" fill="#fff"/>
<rect x="615.98" y="528.8" width="1.3" height="2.4" fill="#fff"/>
<rect x="652" y="531.2" width="22.9" height="1.4" fill="#fff"/>
<rect x="652" y="532.6" width="1.8" height="4.3" fill="#fff"/>
<rect x="654.8" y="532.6" width="1.2" height="4.3" fill="#fff"/>
<rect x="657.3" y="532.6" width="1.8" height="4.3" fill="#fff"/>
<rect x="660.1" y="532.6" width="1.8" height="4.3" fill="#fff"/>
<rect x="663.2" y="532.6" width="1.2" height="4.3" fill="#fff"/>
<rect x="666" y="532.6" width="2.4" height="4.3" fill="#fff"/>
<rect x="669.7" y="532.6" width="1.2" height="4.3" fill="#fff"/>
<rect x="672.2" y="532.6" width="1.2" height="4.3" fill="#fff"/>
<rect x="652.56" y="528.8" width="1.3" height="2.4" fill="#fff"/>
<rect x="693.4" y="531.2" width="26" height="1.4" fill="#fff"/>
<rect x="693.4" y="532.6" width="2.4" height="4.3" fill="#fff"/>
<rect x="697.4" y="532.6" width="1.5" height="4.3" fill="#fff"/>
<rect x="699.9" y="532.6" width="2.4" height="4.3" fill="#fff"/>
<rect x="703.6" y="532.6" width="1.2" height="4.3" fill="#fff"/>
<rect x="706.4" y="532.6" width="2.4" height="4.3" fill="#fff"/>
<rect x="710.1" y="532.6" width="1.2" height="4.3" fill="#fff"/>
<rect x="712.3" y="532.6" width="1.5" height="4.3" fill="#fff"/>
<rect x="715.1" y="532.6" width="1.8" height="4.3" fill="#fff"/>
<rect x="718.5" y="532.6" width="0.9" height="4.3" fill="#fff"/>
<rect x="712.22" y="528.8" width="1.3" height="2.4" fill="#fff"/>
<rect x="712.42" y="528.8" width="1.3" height="2.4" fill="#fff"/>
<rect x="738.8" y="531.2" width="15.1" height="1.4" fill="#fff"/>
<rect x="738.8" y="532.6" width="2.4" height="4.3" fill="#fff"/>
<rect x="742.8" y="532.6" width="1.2" height="4.3" fill="#fff"/>
<rect x="745" y="532.6" width="1.5" height="4.3" fill="#fff"/>
<rect x="747.5" y="532.6" width="2.4" height="4.3" fill="#fff"/>
<rect x="750.9" y="532.6" width="1.2" height="4.3" fill="#fff"/>
<rect x="753.4" y="532.6" width="0.5" height="4.3" fill="#fff"/>
<rect x="749.46" y="528.8" width="1.3" height="2.4" fill="#fff"/>
<rect x="750.23" y="528.8" width="1.3" height="2.4" fill="#fff"/>
<rect x="752.28" y="528.8" width="1.3" height="2.4" fill="#fff"/>
<rect x="783.3" y="531.2" width="21.7" height="1.4" fill="#fff"/>
<rect x="783.3" y="532.6" width="1.5" height="4.3" fill="#fff"/>
<rect x="785.8" y="532.6" width="2.4" height="4.3" fill="#fff"/>
<rect x="789.2" y="532.6" width="2.4" height="4.3" fill="#fff"/>
<rect x="793.2" y="532.6" width="1.8" height="4.3" fill="#fff"/>
<rect x="796.6" y="532.6" width="1.8" height="4.3" fill="#fff"/>
<rect x="799.4" y="532.6" width="1.8" height="4.3" fill="#fff"/>
<rect x="802.2" y="532.6" width="1.2" height="4.3" fill="#fff"/>
<rect x="804.4" y="532.6" width="0.6" height="4.3" fill="#fff"/>
<rect x="798.44" y="528.8" width="1.3" height="2.4" fill="#fff"/>
<rect x="800.99" y="528.8" width="1.3" height="2.4" fill="#fff"/>
<rect x="827" y="531.2" width="23.5" height="1.4" fill="#fff"/>
<rect x="827" y="532.6" width="1.2" height="4.3" fill="#fff"/>
<rect x="829.8" y="532.6" width="2.4" height="4.3" fill="#fff"/>
<rect x="833.5" y="532.6" width="1.2" height="4.3" fill="#fff"/>
<rect x="836" y="532.6" width="1.5" height="4.3" fill="#fff"/>
<rect x="839.1" y="532.6" width="1.5" height="4.3" fill="#fff"/>
<rect x="842.2" y="532.6" width="1.2" height="4.3" fill="#fff"/>
<rect x="844.4" y="532.6" width="1.8" height="4.3" fill="#fff"/>
<rect x="847.5" y="532.6" width="2.4" height="4.3" fill="#fff"/>
<rect x="841.6" y="528.8" width="1.3" height="2.4" fill="#fff"/>
<rect x="832.03" y="528.8" width="1.3" height="2.4" fill="#fff"/>
<rect x="843.86" y="528.8" width="1.3" height="2.4" fill="#fff"/>
<rect x="870.6" y="531.2" width="21.9" height="1.4" fill="#fff"/>
<rect x="870.6" y="532.6" width="2.4" height="4.3" fill="#fff"/>
<rect x="874.6" y="532.6" width="1.2" height="4.3" fill="#fff"/>
<rect x="876.8" y="532.6" width="1.8" height="4.3" fill="#fff"/>
<rect x="879.9" y="532.6" width="1.8" height="4.3" fill="#fff"/>
<rect x="883" y="532.6" width="1.2" height="4.3" fill="#fff"/>
<rect x="885.8" y="532.6" width="1.5" height="4.3" fill="#fff"/>
<rect x="888.6" y="532.6" width="1.8" height="4.3" fill="#fff"/>
<rect x="891.7" y="532.6" width="0.8" height="4.3" fill="#fff"/>
<rect x="883.91" y="528.8" width="1.3" height="2.4" fill="#fff"/>
<rect x="883.95" y="528.8" width="1.3" height="2.4" fill="#fff"/>
<rect x="877.45" y="528.8" width="1.3" height="2.4" fill="#fff"/>
<rect x="913.5" y="531.2" width="22.7" height="1.4" fill="#fff"/>
<rect x="913.5" y="532.6" width="2.4" height="4.3" fill="#fff"/>
<rect x="916.9" y="532.6" width="1.5" height="4.3" fill="#fff"/>
<rect x="920" y="532.6" width="2.4" height="4.3" fill="#fff"/>
<rect x="923.4" y="532.6" width="1.8" height="4.3" fill="#fff"/>
<rect x="926.2" y="532.6" width="1.5" height="4.3" fill="#fff"/>
<rect x="928.7" y="532.6" width="1.8" height="4.3" fill="#fff"/>
<rect x="932.1" y="532.6" width="1.5" height="4.3" fill="#fff"/>
<rect x="935.2" y="532.6" width="1" height="4.3" fill="#fff"/>
<rect x="934.01" y="528.8" width="1.3" height="2.4" fill="#fff"/>
<rect x="914.33" y="528.8" width="1.3" height="2.4" fill="#fff"/>
<rect x="914.89" y="528.8" width="1.3" height="2.4" fill="#fff"/>
<rect x="957.3" y="531.2" width="21.8" height="1.4" fill="#fff"/>
<rect x="957.3" y="532.6" width="1.2" height="4.3" fill="#fff"/>
<rect x="960.1" y="532.6" width="2.4" height="4.3" fill="#fff"/>
<rect x="963.8" y="532.6" width="1.8" height="4.3" fill="#fff"/>
<rect x="966.9" y="532.6" width="2.4" height="4.3" fill="#fff"/>
<rect x="970.9" y="532.6" width="1.8" height="4.3" fill="#fff"/>
<rect x="973.7" y="532.6" width="1.5" height="4.3" fill="#fff"/>
<rect x="976.2" y="532.6" width="2.4" height="4.3" fill="#fff"/>
<rect x="972.47" y="528.8" width="1.3" height="2.4" fill="#fff"/>
<rect x="964.13" y="528.8" width="1.3" height="2.4" fill="#fff"/>
<rect x="999.9" y="531.2" width="22.7" height="1.4" fill="#fff"/>
<rect x="999.9" y="532.6" width="1.5" height="4.3" fill="#fff"/>
<rect x="1003" y="532.6" width="1.5" height="4.3" fill="#fff"/>
<rect x="1005.8" y="532.6" width="1.2" height="4.3" fill="#fff"/>
<rect x="1008.6" y="532.6" width="1.5" height="4.3" fill="#fff"/>
<rect x="1011.1" y="532.6" width="1.2" height="4.3" fill="#fff"/>
<rect x="1013.9" y="532.6" width="1.2" height="4.3" fill="#fff"/>
<rect x="1016.7" y="532.6" width="1.8" height="4.3" fill="#fff"/>
<rect x="1019.8" y="532.6" width="1.8" height="4.3" fill="#fff"/>
<rect x="1002.49" y="528.8" width="1.3" height="2.4" fill="#fff"/>
<rect x="1003.67" y="528.8" width="1.3" height="2.4" fill="#fff"/>
<rect x="1004.94" y="528.8" width="1.3" height="2.4" fill="#fff"/>
<rect x="1043.7" y="531.2" width="5" height="1.4" fill="#fff"/>
<rect x="1043.7" y="532.6" width="1.8" height="4.3" fill="#fff"/>
<rect x="1047.1" y="532.6" width="1.2" height="4.3" fill="#fff"/>
<rect x="1046.48" y="528.8" width="1.3" height="2.4" fill="#fff"/>
<rect x="1058.8" y="531.2" width="7.6" height="1.4" fill="#fff"/>
<rect x="1058.8" y="532.6" width="2.4" height="4.3" fill="#fff"/>
<rect x="1062.5" y="532.6" width="1.8" height="4.3" fill="#fff"/>
<rect x="1065.3" y="532.6" width="1.1" height="4.3" fill="#fff"/>
<rect x="1060.72" y="528.8" width="1.3" height="2.4" fill="#fff"/>
<rect x="1087.4" y="531.2" width="21.9" height="1.4" fill="#fff"/>
<rect x="1087.4" y="532.6" width="1.8" height="4.3" fill="#fff"/>
<rect x="1090.2" y="532.6" width="1.5" height="4.3" fill="#fff"/>
<rect x="1093" y="532.6" width="1.8" height="4.3" fill="#fff"/>
<rect x="1096.4" y="532.6" width="1.2" height="4.3" fill="#fff"/>
<rect x="1099.2" y="532.6" width="1.2" height="4.3" fill="#fff"/>
<rect x="1101.7" y="532.6" width="1.5" height="4.3" fill="#fff"/>
<rect x="1104.5" y="532.6" width="2.4" height="4.3" fill="#fff"/>
<rect x="1107.9" y="532.6" width="1.4" height="4.3" fill="#fff"/>
<rect x="1089.47" y="528.8" width="1.3" height="2.4" fill="#fff"/>
<rect x="1094.84" y="528.8" width="1.3" height="2.4" fill="#fff"/>
<rect x="1091.45" y="528.8" width="1.3" height="2.4" fill="#fff"/>
<rect x="1130.3" y="531.2" width="16.8" height="1.4" fill="#fff"/>
<rect x="1130.3" y="532.6" width="2.4" height="4.3" fill="#fff"/>
<rect x="1133.7" y="532.6" width="1.5" height="4.3" fill="#fff"/>
<rect x="1136.2" y="532.6" width="1.8" height="4.3" fill="#fff"/>
<rect x="1139" y="532.6" width="2.4" height="4.3" fill="#fff"/>
<rect x="1142.4" y="532.6" width="1.8" height="4.3" fill="#fff"/>
<rect x="1145.5" y="532.6" width="1.2" height="4.3" fill="#fff"/>
<rect x="1134.52" y="528.8" width="1.3" height="2.4" fill="#fff"/>
<rect x="1130.83" y="528.8" width="1.3" height="2.4" fill="#fff"/>
<rect x="150" y="527" width="1.4" height="3.1" fill="#fff"/>
<rect x="153.3" y="527" width="1.4" height="3.1" fill="#fff"/>
<rect x="156.6" y="527" width="1.4" height="3.1" fill="#fff"/>
<rect x="159.9" y="527" width="1.4" height="3.1" fill="#fff"/>
<rect x="163.2" y="527" width="1.4" height="3.1" fill="#fff"/>
<rect x="248" y="527" width="1.4" height="3.1" fill="#fff"/>
<rect x="251.3" y="527" width="1.4" height="3.1" fill="#fff"/>
<rect x="254.6" y="527" width="1.4" height="3.1" fill="#fff"/>
<rect x="257.9" y="527" width="1.4" height="3.1" fill="#fff"/>
<rect x="261.2" y="527" width="1.4" height="3.1" fill="#fff"/>
<rect x="272.3" y="527" width="1.4" height="3.1" fill="#fff"/>
<rect x="275.6" y="527" width="1.4" height="3.1" fill="#fff"/>
<rect x="278.9" y="527" width="1.4" height="3.1" fill="#fff"/>
<rect x="282.2" y="527" width="1.4" height="3.1" fill="#fff"/>
<rect x="285.5" y="527" width="1.4" height="3.1" fill="#fff"/>
<rect x="288.8" y="527" width="1.4" height="3.1" fill="#fff"/>
<rect x="292.1" y="527" width="1.4" height="3.1" fill="#fff"/>
<rect x="295.4" y="527" width="1.4" height="3.1" fill="#fff"/>
<rect x="298.7" y="527" width="1.4" height="3.1" fill="#fff"/>
<rect x="334.6" y="527" width="1.4" height="3.1" fill="#fff"/>
<rect x="337.9" y="527" width="1.4" height="3.1" fill="#fff"/>
<rect x="341.2" y="527" width="1.4" height="3.1" fill="#fff"/>
<rect x="348" y="527" width="1.4" height="3.1" fill="#fff"/>
<rect x="351.3" y="527" width="1.4" height="3.1" fill="#fff"/>
<rect x="354.6" y="527" width="1.4" height="3.1" fill="#fff"/>
<rect x="357.9" y="527" width="1.4" height="3.1" fill="#fff"/>
<rect x="444.6" y="527" width="1.4" height="3.1" fill="#fff"/>
<rect x="447.9" y="527" width="1.4" height="3.1" fill="#fff"/>
<rect x="451.2" y="527" width="1.4" height="3.1" fill="#fff"/>
<rect x="454.5" y="527" width="1.4" height="3.1" fill="#fff"/>
<rect x="457.8" y="527" width="1.4" height="3.1" fill="#fff"/>
<rect x="543" y="527" width="1.4" height="3.1" fill="#fff"/>
<rect x="546.3" y="527" width="1.4" height="3.1" fill="#fff"/>
<rect x="549.6" y="527" width="1.4" height="3.1" fill="#fff"/>
<rect x="552.9" y="527" width="1.4" height="3.1" fill="#fff"/>
<rect x="556.2" y="527" width="1.4" height="3.1" fill="#fff"/>
<rect x="641.2" y="527" width="1.4" height="3.1" fill="#fff"/>
<rect x="644.5" y="527" width="1.4" height="3.1" fill="#fff"/>
<rect x="647.8" y="527" width="1.4" height="3.1" fill="#fff"/>
<rect x="651.1" y="527" width="1.4" height="3.1" fill="#fff"/>
<rect x="654.4" y="527" width="1.4" height="3.1" fill="#fff"/>
<rect x="665.6" y="527" width="1.4" height="3.1" fill="#fff"/>
<rect x="668.9" y="527" width="1.4" height="3.1" fill="#fff"/>
<rect x="672.2" y="527" width="1.4" height="3.1" fill="#fff"/>
<rect x="675.5" y="527" width="1.4" height="3.1" fill="#fff"/>
<rect x="678.8" y="527" width="1.4" height="3.1" fill="#fff"/>
<rect x="682.1" y="527" width="1.4" height="3.1" fill="#fff"/>
<rect x="685.4" y="527" width="1.4" height="3.1" fill="#fff"/>
<rect x="688.7" y="527" width="1.4" height="3.1" fill="#fff"/>
<rect x="738.8" y="527" width="1.4" height="3.1" fill="#fff"/>
<rect x="742.1" y="527" width="1.4" height="3.1" fill="#fff"/>
<rect x="745.4" y="527" width="1.4" height="3.1" fill="#fff"/>
<rect x="748.7" y="527" width="1.4" height="3.1" fill="#fff"/>
<rect x="752" y="527" width="1.4" height="3.1" fill="#fff"/>
<rect x="837" y="527" width="1.4" height="3.1" fill="#fff"/>
<rect x="840.3" y="527" width="1.4" height="3.1" fill="#fff"/>
<rect x="843.6" y="527" width="1.4" height="3.1" fill="#fff"/>
<rect x="846.9" y="527" width="1.4" height="3.1" fill="#fff"/>
<rect x="850.2" y="527" width="1.4" height="3.1" fill="#fff"/>
<rect x="936.2" y="527" width="1.4" height="3.1" fill="#fff"/>
<rect x="939.5" y="527" width="1.4" height="3.1" fill="#fff"/>
<rect x="942.8" y="527" width="1.4" height="3.1" fill="#fff"/>
<rect x="946.1" y="527" width="1.4" height="3.1" fill="#fff"/>
<rect x="949.4" y="527" width="1.4" height="3.1" fill="#fff"/>
<rect x="960.6" y="527" width="1.4" height="3.1" fill="#fff"/>
<rect x="963.9" y="527" width="1.4" height="3.1" fill="#fff"/>
<rect x="967.2" y="527" width="1.4" height="3.1" fill="#fff"/>
<rect x="970.5" y="527" width="1.4" height="3.1" fill="#fff"/>
<rect x="973.8" y="527" width="1.4" height="3.1" fill="#fff"/>
<rect x="977.1" y="527" width="1.4" height="3.1" fill="#fff"/>
<rect x="980.4" y="527" width="1.4" height="3.1" fill="#fff"/>
<rect x="983.7" y="527" width="1.4" height="3.1" fill="#fff"/>
<rect x="1009" y="527" width="1.4" height="3.1" fill="#fff"/>
<rect x="1012.3" y="527" width="1.4" height="3.1" fill="#fff"/>
<rect x="1015.6" y="527" width="1.4" height="3.1" fill="#fff"/>
<rect x="1018.9" y="527" width="1.4" height="3.1" fill="#fff"/>
<rect x="1022.2" y="527" width="1.4" height="3.1" fill="#fff"/>
<rect x="1132" y="527" width="1.4" height="3.1" fill="#fff"/>
<rect x="1135.3" y="527" width="1.4" height="3.1" fill="#fff"/>
<rect x="1138.6" y="527" width="1.4" height="3.1" fill="#fff"/>
<rect x="1141.9" y="527" width="1.4" height="3.1" fill="#fff"/>
<rect x="1145.2" y="527" width="1.4" height="3.1" fill="#fff"/>
<rect x="1148.5" y="527" width="1.4" height="3.1" fill="#fff"/>
<rect x="1151.8" y="527" width="1.4" height="3.1" fill="#fff"/>
<path d="M14 494.5H1181M14.5 495V551M1180.5 495V551" stroke="#fff" stroke-opacity="0.33" stroke-width="1" fill="none"/>
<path d="M14 551.5H1181" stroke="#fff" stroke-opacity="0.15" stroke-width="1" fill="none"/>
<text x="38" y="503" fill="#fff" font-weight="bold" font-size="19.4">GM Drums</text>
</g>
<line x1="14.5" y1="552" x2="14.5" y2="557" stroke="#fff" stroke-width="1"/>
<text x="14.1" y="571.8" fill="#fff" font-size="13.9" letter-spacing="-0.7" text-anchor="middle">0</text>
<line x1="219.5" y1="552" x2="219.5" y2="557" stroke="#fff" stroke-width="1"/>
<text x="218.9" y="571.8" fill="#fff" font-size="13.9" letter-spacing="-0.7" text-anchor="middle">50</text>
<line x1="424.5" y1="552" x2="424.5" y2="557" stroke="#fff" stroke-width="1"/>
<text x="423.7" y="571.8" fill="#fff" font-size="13.9" letter-spacing="-0.7" text-anchor="middle">100</text>
<line x1="628.5" y1="552" x2="628.5" y2="557" stroke="#fff" stroke-width="1"/>
<text x="628.5" y="571.8" fill="#fff" font-size="13.9" letter-spacing="-0.7" text-anchor="middle">150</text>
<line x1="833.5" y1="552" x2="833.5" y2="557" stroke="#fff" stroke-width="1"/>
<text x="833.3" y="571.8" fill="#fff" font-size="13.9" letter-spacing="-0.7" text-anchor="middle">200</text>
<line x1="1038.5" y1="552" x2="1038.5" y2="557" stroke="#fff" stroke-width="1"/>
<text x="1038.1" y="571.8" fill="#fff" font-size="13.9" letter-spacing="-0.7" text-anchor="middle">250</text>
<text x="597.7" y="591" fill="#fff" font-size="13.9" text-anchor="middle">Temps (secondes)</text>
<ellipse cx="523.1" cy="574.3" rx="19.9" ry="10.2" fill="#3b3b3b"/>
<ellipse cx="571.1" cy="574.3" rx="19.9" ry="10.2" fill="#3b3b3b"/>
<ellipse cx="619.1" cy="574.3" rx="19.9" ry="10.2" fill="#3b3b3b"/>
<ellipse cx="667.1" cy="574.3" rx="19.9" ry="10.2" fill="#3b3b3b"/>
<path d="M514.4 568.2L531.8 573.7L531.8 575.5L514.4 581.8ZM518.2 572.1L526 574.5L518.2 576.8Z" fill="#fff" fill-rule="evenodd"/>
<path d="M562.3 569.6L583.3 574.7L562.3 579.7" fill="none" stroke="#fff" stroke-width="3.1" stroke-linejoin="round"/>
<rect x="608.8" y="570.1" width="21.1" height="10.5" fill="#fff"/>
<path d="M675.8 568.2L658.4 573.7L658.4 575.5L675.8 581.8ZM672 572.1L664.2 574.5L672 576.8Z" fill="#fff" fill-rule="evenodd"/>
</svg></body></html>
